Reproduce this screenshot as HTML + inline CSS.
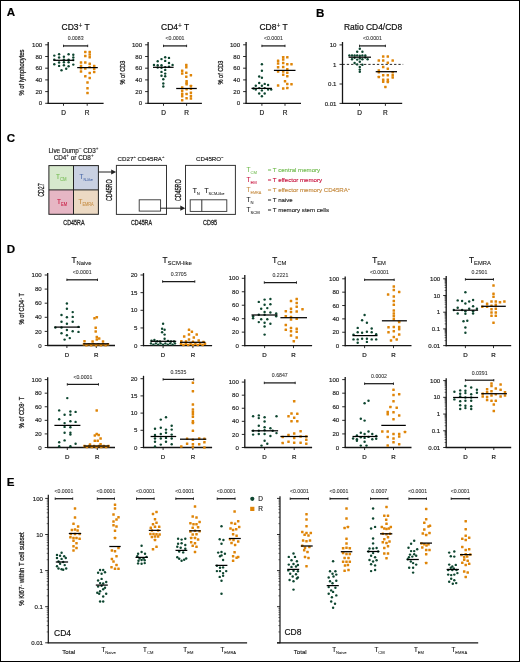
<!DOCTYPE html>
<html><head><meta charset="utf-8"><style>
html,body{margin:0;padding:0;background:#fff;}
body{width:520px;height:662px;overflow:hidden;}
svg{display:block;font-family:"Liberation Sans", sans-serif;will-change:transform;}
</style></head><body>
<svg width="520" height="662" viewBox="0 0 520 662">
<rect x="0" y="0" width="520" height="662" fill="#fff"/>
<text x="6.80" y="16.30" font-size="11.6" text-anchor="start" fill="#000" font-weight="bold"  stroke="#000" stroke-width="0.16">A</text>
<line x1="48.20" y1="42.00" x2="48.20" y2="103.90" stroke="#151515" stroke-width="1.3" />
<line x1="47.60" y1="103.30" x2="103.60" y2="103.30" stroke="#151515" stroke-width="1.3" />
<line x1="45.20" y1="103.30" x2="48.20" y2="103.30" stroke="#151515" stroke-width="0.9" />
<text x="42.20" y="105.45" font-size="6.1" text-anchor="end" fill="#222" font-weight="normal" stroke="#222" stroke-width="0.16" >0</text>
<line x1="45.20" y1="91.60" x2="48.20" y2="91.60" stroke="#151515" stroke-width="0.9" />
<text x="42.20" y="93.75" font-size="6.1" text-anchor="end" fill="#222" font-weight="normal" stroke="#222" stroke-width="0.16" >20</text>
<line x1="45.20" y1="79.90" x2="48.20" y2="79.90" stroke="#151515" stroke-width="0.9" />
<text x="42.20" y="82.05" font-size="6.1" text-anchor="end" fill="#222" font-weight="normal" stroke="#222" stroke-width="0.16" >40</text>
<line x1="45.20" y1="68.20" x2="48.20" y2="68.20" stroke="#151515" stroke-width="0.9" />
<text x="42.20" y="70.35" font-size="6.1" text-anchor="end" fill="#222" font-weight="normal" stroke="#222" stroke-width="0.16" >60</text>
<line x1="45.20" y1="56.50" x2="48.20" y2="56.50" stroke="#151515" stroke-width="0.9" />
<text x="42.20" y="58.65" font-size="6.1" text-anchor="end" fill="#222" font-weight="normal" stroke="#222" stroke-width="0.16" >80</text>
<line x1="45.20" y1="44.80" x2="48.20" y2="44.80" stroke="#151515" stroke-width="0.9" />
<text x="42.20" y="46.95" font-size="6.1" text-anchor="end" fill="#222" font-weight="normal" stroke="#222" stroke-width="0.16" >100</text>
<line x1="63.50" y1="103.30" x2="63.50" y2="105.80" stroke="#151515" stroke-width="0.9" />
<text x="63.50" y="114.90" font-size="6.5" text-anchor="middle" fill="#222" font-weight="normal" stroke="#222" stroke-width="0.2" >D</text>
<line x1="87.20" y1="103.30" x2="87.20" y2="105.80" stroke="#151515" stroke-width="0.9" />
<text x="87.20" y="114.90" font-size="6.5" text-anchor="middle" fill="#222" font-weight="normal" stroke="#222" stroke-width="0.2" >R</text>
<text transform="translate(24.00,72.50) rotate(-90)" font-size="6.9" text-anchor="middle" fill="#222" stroke="#222" stroke-width="0.28" textLength="46" lengthAdjust="spacingAndGlyphs">% of lymphocytes</text>
<text x="75.70" y="30.30" font-size="8.3" text-anchor="middle" fill="#111" font-weight="normal" textLength="28.2" lengthAdjust="spacingAndGlyphs" stroke="#111" stroke-width="0.22" >CD3<tspan font-size="6.6" dy="-2.4" stroke-width="0.07">+</tspan><tspan dy="2.4"> T</tspan></text>
<line x1="63.50" y1="45.90" x2="87.70" y2="45.90" stroke="#1a1a1a" stroke-width="1.25" />
<line x1="63.50" y1="44.70" x2="63.50" y2="47.10" stroke="#1a1a1a" stroke-width="0.9" />
<line x1="87.70" y1="44.70" x2="87.70" y2="47.10" stroke="#1a1a1a" stroke-width="0.9" />
<text x="75.60" y="40.20" font-size="5.2" text-anchor="middle" fill="#333" font-weight="normal" stroke="#333" stroke-width="0.08" >0.0083</text>
<circle cx="54.30" cy="55.60" r="1.22" fill="#0e4630"/>
<circle cx="59.10" cy="54.30" r="1.22" fill="#0e4630"/>
<circle cx="63.90" cy="56.70" r="1.22" fill="#0e4630"/>
<circle cx="68.60" cy="54.30" r="1.22" fill="#0e4630"/>
<circle cx="73.30" cy="54.80" r="1.22" fill="#0e4630"/>
<circle cx="59.10" cy="57.50" r="1.22" fill="#0e4630"/>
<circle cx="73.30" cy="57.50" r="1.22" fill="#0e4630"/>
<circle cx="54.30" cy="59.60" r="1.22" fill="#0e4630"/>
<circle cx="63.90" cy="59.60" r="1.22" fill="#0e4630"/>
<circle cx="68.60" cy="59.60" r="1.22" fill="#0e4630"/>
<circle cx="73.30" cy="60.10" r="1.22" fill="#0e4630"/>
<circle cx="59.10" cy="62.50" r="1.22" fill="#0e4630"/>
<circle cx="63.90" cy="62.30" r="1.22" fill="#0e4630"/>
<circle cx="68.60" cy="62.30" r="1.22" fill="#0e4630"/>
<circle cx="54.30" cy="64.20" r="1.22" fill="#0e4630"/>
<circle cx="59.10" cy="65.90" r="1.22" fill="#0e4630"/>
<circle cx="63.90" cy="65.20" r="1.22" fill="#0e4630"/>
<circle cx="68.60" cy="66.20" r="1.22" fill="#0e4630"/>
<circle cx="73.30" cy="64.60" r="1.22" fill="#0e4630"/>
<circle cx="61.50" cy="70.20" r="1.22" fill="#0e4630"/>
<circle cx="66.20" cy="68.80" r="1.22" fill="#0e4630"/>
<rect x="84.05" y="50.65" width="2.5" height="2.5" rx="0.35" fill="#df8508"/>
<rect x="88.45" y="50.65" width="2.5" height="2.5" rx="0.35" fill="#df8508"/>
<rect x="84.05" y="54.75" width="2.5" height="2.5" rx="0.35" fill="#df8508"/>
<rect x="88.45" y="53.35" width="2.5" height="2.5" rx="0.35" fill="#df8508"/>
<rect x="88.45" y="55.95" width="2.5" height="2.5" rx="0.35" fill="#df8508"/>
<rect x="79.75" y="61.25" width="2.5" height="2.5" rx="0.35" fill="#df8508"/>
<rect x="84.05" y="61.25" width="2.5" height="2.5" rx="0.35" fill="#df8508"/>
<rect x="88.45" y="62.55" width="2.5" height="2.5" rx="0.35" fill="#df8508"/>
<rect x="79.75" y="64.65" width="2.5" height="2.5" rx="0.35" fill="#df8508"/>
<rect x="92.95" y="64.65" width="2.5" height="2.5" rx="0.35" fill="#df8508"/>
<rect x="79.75" y="67.05" width="2.5" height="2.5" rx="0.35" fill="#df8508"/>
<rect x="84.05" y="67.25" width="2.5" height="2.5" rx="0.35" fill="#df8508"/>
<rect x="88.45" y="65.85" width="2.5" height="2.5" rx="0.35" fill="#df8508"/>
<rect x="92.95" y="67.55" width="2.5" height="2.5" rx="0.35" fill="#df8508"/>
<rect x="79.75" y="70.35" width="2.5" height="2.5" rx="0.35" fill="#df8508"/>
<rect x="92.95" y="70.65" width="2.5" height="2.5" rx="0.35" fill="#df8508"/>
<rect x="88.45" y="71.65" width="2.5" height="2.5" rx="0.35" fill="#df8508"/>
<rect x="84.05" y="75.05" width="2.5" height="2.5" rx="0.35" fill="#df8508"/>
<rect x="88.45" y="76.65" width="2.5" height="2.5" rx="0.35" fill="#df8508"/>
<rect x="86.25" y="81.15" width="2.5" height="2.5" rx="0.35" fill="#df8508"/>
<rect x="86.25" y="87.05" width="2.5" height="2.5" rx="0.35" fill="#df8508"/>
<rect x="86.25" y="91.85" width="2.5" height="2.5" rx="0.35" fill="#df8508"/>
<line x1="53.40" y1="60.30" x2="74.00" y2="60.30" stroke="#000" stroke-width="1.25" />
<line x1="77.20" y1="67.60" x2="97.80" y2="67.60" stroke="#000" stroke-width="1.25" />
<line x1="148.10" y1="42.00" x2="148.10" y2="103.90" stroke="#151515" stroke-width="1.3" />
<line x1="147.50" y1="103.30" x2="201.90" y2="103.30" stroke="#151515" stroke-width="1.3" />
<line x1="145.10" y1="103.30" x2="148.10" y2="103.30" stroke="#151515" stroke-width="0.9" />
<text x="142.10" y="105.45" font-size="6.1" text-anchor="end" fill="#222" font-weight="normal" stroke="#222" stroke-width="0.16" >0</text>
<line x1="145.10" y1="91.60" x2="148.10" y2="91.60" stroke="#151515" stroke-width="0.9" />
<text x="142.10" y="93.75" font-size="6.1" text-anchor="end" fill="#222" font-weight="normal" stroke="#222" stroke-width="0.16" >20</text>
<line x1="145.10" y1="79.90" x2="148.10" y2="79.90" stroke="#151515" stroke-width="0.9" />
<text x="142.10" y="82.05" font-size="6.1" text-anchor="end" fill="#222" font-weight="normal" stroke="#222" stroke-width="0.16" >40</text>
<line x1="145.10" y1="68.20" x2="148.10" y2="68.20" stroke="#151515" stroke-width="0.9" />
<text x="142.10" y="70.35" font-size="6.1" text-anchor="end" fill="#222" font-weight="normal" stroke="#222" stroke-width="0.16" >60</text>
<line x1="145.10" y1="56.50" x2="148.10" y2="56.50" stroke="#151515" stroke-width="0.9" />
<text x="142.10" y="58.65" font-size="6.1" text-anchor="end" fill="#222" font-weight="normal" stroke="#222" stroke-width="0.16" >80</text>
<line x1="145.10" y1="44.80" x2="148.10" y2="44.80" stroke="#151515" stroke-width="0.9" />
<text x="142.10" y="46.95" font-size="6.1" text-anchor="end" fill="#222" font-weight="normal" stroke="#222" stroke-width="0.16" >100</text>
<line x1="163.50" y1="103.30" x2="163.50" y2="105.80" stroke="#151515" stroke-width="0.9" />
<text x="163.50" y="114.90" font-size="6.5" text-anchor="middle" fill="#222" font-weight="normal" stroke="#222" stroke-width="0.2" >D</text>
<line x1="186.60" y1="103.30" x2="186.60" y2="105.80" stroke="#151515" stroke-width="0.9" />
<text x="186.60" y="114.90" font-size="6.5" text-anchor="middle" fill="#222" font-weight="normal" stroke="#222" stroke-width="0.2" >R</text>
<text transform="translate(124.50,72.50) rotate(-90)" font-size="6.9" text-anchor="middle" fill="#222" stroke="#222" stroke-width="0.28" textLength="24" lengthAdjust="spacingAndGlyphs">% of CD3</text>
<text x="175.20" y="30.30" font-size="8.3" text-anchor="middle" fill="#111" font-weight="normal" textLength="28.2" lengthAdjust="spacingAndGlyphs" stroke="#111" stroke-width="0.22" >CD4<tspan font-size="6.6" dy="-2.4" stroke-width="0.07">+</tspan><tspan dy="2.4"> T</tspan></text>
<line x1="163.50" y1="45.90" x2="186.60" y2="45.90" stroke="#1a1a1a" stroke-width="1.25" />
<line x1="163.50" y1="44.70" x2="163.50" y2="47.10" stroke="#1a1a1a" stroke-width="0.9" />
<line x1="186.60" y1="44.70" x2="186.60" y2="47.10" stroke="#1a1a1a" stroke-width="0.9" />
<text x="175.05" y="40.20" font-size="5.2" text-anchor="middle" fill="#333" font-weight="normal" stroke="#333" stroke-width="0.08" >&lt;0.0001</text>
<circle cx="165.20" cy="57.20" r="1.22" fill="#0e4630"/>
<circle cx="169.00" cy="57.90" r="1.22" fill="#0e4630"/>
<circle cx="161.50" cy="59.10" r="1.22" fill="#0e4630"/>
<circle cx="157.70" cy="61.25" r="1.22" fill="#0e4630"/>
<circle cx="165.20" cy="60.90" r="1.22" fill="#0e4630"/>
<circle cx="169.00" cy="63.00" r="1.22" fill="#0e4630"/>
<circle cx="154.00" cy="64.90" r="1.22" fill="#0e4630"/>
<circle cx="157.70" cy="65.20" r="1.22" fill="#0e4630"/>
<circle cx="161.50" cy="65.20" r="1.22" fill="#0e4630"/>
<circle cx="172.60" cy="64.90" r="1.22" fill="#0e4630"/>
<circle cx="157.70" cy="67.60" r="1.22" fill="#0e4630"/>
<circle cx="161.50" cy="67.80" r="1.22" fill="#0e4630"/>
<circle cx="165.20" cy="67.10" r="1.22" fill="#0e4630"/>
<circle cx="169.00" cy="66.80" r="1.22" fill="#0e4630"/>
<circle cx="165.20" cy="69.90" r="1.22" fill="#0e4630"/>
<circle cx="161.50" cy="71.90" r="1.22" fill="#0e4630"/>
<circle cx="165.20" cy="73.60" r="1.22" fill="#0e4630"/>
<circle cx="161.50" cy="75.80" r="1.22" fill="#0e4630"/>
<circle cx="165.20" cy="76.20" r="1.22" fill="#0e4630"/>
<circle cx="163.30" cy="79.30" r="1.22" fill="#0e4630"/>
<circle cx="163.30" cy="83.50" r="1.22" fill="#0e4630"/>
<circle cx="163.30" cy="86.50" r="1.22" fill="#0e4630"/>
<rect x="185.05" y="63.65" width="2.5" height="2.5" rx="0.35" fill="#df8508"/>
<rect x="185.05" y="66.05" width="2.5" height="2.5" rx="0.35" fill="#df8508"/>
<rect x="180.95" y="69.45" width="2.5" height="2.5" rx="0.35" fill="#df8508"/>
<rect x="180.95" y="72.35" width="2.5" height="2.5" rx="0.35" fill="#df8508"/>
<rect x="185.05" y="71.55" width="2.5" height="2.5" rx="0.35" fill="#df8508"/>
<rect x="189.65" y="73.95" width="2.5" height="2.5" rx="0.35" fill="#df8508"/>
<rect x="185.05" y="75.45" width="2.5" height="2.5" rx="0.35" fill="#df8508"/>
<rect x="185.35" y="79.95" width="2.5" height="2.5" rx="0.35" fill="#df8508"/>
<rect x="185.35" y="81.65" width="2.5" height="2.5" rx="0.35" fill="#df8508"/>
<rect x="185.35" y="83.05" width="2.5" height="2.5" rx="0.35" fill="#df8508"/>
<rect x="180.95" y="86.25" width="2.5" height="2.5" rx="0.35" fill="#df8508"/>
<rect x="180.95" y="89.45" width="2.5" height="2.5" rx="0.35" fill="#df8508"/>
<rect x="180.95" y="92.55" width="2.5" height="2.5" rx="0.35" fill="#df8508"/>
<rect x="180.95" y="94.95" width="2.5" height="2.5" rx="0.35" fill="#df8508"/>
<rect x="180.95" y="98.95" width="2.5" height="2.5" rx="0.35" fill="#df8508"/>
<rect x="185.35" y="87.95" width="2.5" height="2.5" rx="0.35" fill="#df8508"/>
<rect x="185.35" y="92.85" width="2.5" height="2.5" rx="0.35" fill="#df8508"/>
<rect x="185.35" y="97.05" width="2.5" height="2.5" rx="0.35" fill="#df8508"/>
<rect x="189.65" y="84.85" width="2.5" height="2.5" rx="0.35" fill="#df8508"/>
<rect x="189.65" y="87.45" width="2.5" height="2.5" rx="0.35" fill="#df8508"/>
<rect x="189.65" y="91.45" width="2.5" height="2.5" rx="0.35" fill="#df8508"/>
<rect x="189.65" y="94.65" width="2.5" height="2.5" rx="0.35" fill="#df8508"/>
<rect x="189.65" y="97.25" width="2.5" height="2.5" rx="0.35" fill="#df8508"/>
<line x1="153.00" y1="67.30" x2="173.60" y2="67.30" stroke="#000" stroke-width="1.25" />
<line x1="176.20" y1="88.50" x2="196.80" y2="88.50" stroke="#000" stroke-width="1.25" />
<line x1="246.10" y1="42.00" x2="246.10" y2="103.90" stroke="#151515" stroke-width="1.3" />
<line x1="245.50" y1="103.30" x2="301.00" y2="103.30" stroke="#151515" stroke-width="1.3" />
<line x1="243.10" y1="103.30" x2="246.10" y2="103.30" stroke="#151515" stroke-width="0.9" />
<text x="240.10" y="105.45" font-size="6.1" text-anchor="end" fill="#222" font-weight="normal" stroke="#222" stroke-width="0.16" >0</text>
<line x1="243.10" y1="91.60" x2="246.10" y2="91.60" stroke="#151515" stroke-width="0.9" />
<text x="240.10" y="93.75" font-size="6.1" text-anchor="end" fill="#222" font-weight="normal" stroke="#222" stroke-width="0.16" >20</text>
<line x1="243.10" y1="79.90" x2="246.10" y2="79.90" stroke="#151515" stroke-width="0.9" />
<text x="240.10" y="82.05" font-size="6.1" text-anchor="end" fill="#222" font-weight="normal" stroke="#222" stroke-width="0.16" >40</text>
<line x1="243.10" y1="68.20" x2="246.10" y2="68.20" stroke="#151515" stroke-width="0.9" />
<text x="240.10" y="70.35" font-size="6.1" text-anchor="end" fill="#222" font-weight="normal" stroke="#222" stroke-width="0.16" >60</text>
<line x1="243.10" y1="56.50" x2="246.10" y2="56.50" stroke="#151515" stroke-width="0.9" />
<text x="240.10" y="58.65" font-size="6.1" text-anchor="end" fill="#222" font-weight="normal" stroke="#222" stroke-width="0.16" >80</text>
<line x1="243.10" y1="44.80" x2="246.10" y2="44.80" stroke="#151515" stroke-width="0.9" />
<text x="240.10" y="46.95" font-size="6.1" text-anchor="end" fill="#222" font-weight="normal" stroke="#222" stroke-width="0.16" >100</text>
<line x1="261.90" y1="103.30" x2="261.90" y2="105.80" stroke="#151515" stroke-width="0.9" />
<text x="261.90" y="114.90" font-size="6.5" text-anchor="middle" fill="#222" font-weight="normal" stroke="#222" stroke-width="0.2" >D</text>
<line x1="285.00" y1="103.30" x2="285.00" y2="105.80" stroke="#151515" stroke-width="0.9" />
<text x="285.00" y="114.90" font-size="6.5" text-anchor="middle" fill="#222" font-weight="normal" stroke="#222" stroke-width="0.2" >R</text>
<text transform="translate(222.50,72.50) rotate(-90)" font-size="6.9" text-anchor="middle" fill="#222" stroke="#222" stroke-width="0.28" textLength="24" lengthAdjust="spacingAndGlyphs">% of CD3</text>
<text x="273.60" y="30.30" font-size="8.3" text-anchor="middle" fill="#111" font-weight="normal" textLength="28.2" lengthAdjust="spacingAndGlyphs" stroke="#111" stroke-width="0.22" >CD8<tspan font-size="6.6" dy="-2.4" stroke-width="0.07">+</tspan><tspan dy="2.4"> T</tspan></text>
<line x1="261.90" y1="45.90" x2="285.00" y2="45.90" stroke="#1a1a1a" stroke-width="1.25" />
<line x1="261.90" y1="44.70" x2="261.90" y2="47.10" stroke="#1a1a1a" stroke-width="0.9" />
<line x1="285.00" y1="44.70" x2="285.00" y2="47.10" stroke="#1a1a1a" stroke-width="0.9" />
<text x="273.45" y="40.20" font-size="5.2" text-anchor="middle" fill="#333" font-weight="normal" stroke="#333" stroke-width="0.08" >&lt;0.0001</text>
<circle cx="261.90" cy="64.20" r="1.22" fill="#0e4630"/>
<circle cx="261.90" cy="70.70" r="1.22" fill="#0e4630"/>
<circle cx="259.20" cy="76.50" r="1.22" fill="#0e4630"/>
<circle cx="261.90" cy="77.80" r="1.22" fill="#0e4630"/>
<circle cx="259.20" cy="83.00" r="1.22" fill="#0e4630"/>
<circle cx="264.70" cy="83.90" r="1.22" fill="#0e4630"/>
<circle cx="255.80" cy="85.80" r="1.22" fill="#0e4630"/>
<circle cx="268.10" cy="85.00" r="1.22" fill="#0e4630"/>
<circle cx="261.90" cy="85.80" r="1.22" fill="#0e4630"/>
<circle cx="253.50" cy="88.50" r="1.22" fill="#0e4630"/>
<circle cx="255.80" cy="89.60" r="1.22" fill="#0e4630"/>
<circle cx="259.20" cy="88.10" r="1.22" fill="#0e4630"/>
<circle cx="264.70" cy="88.10" r="1.22" fill="#0e4630"/>
<circle cx="268.10" cy="89.60" r="1.22" fill="#0e4630"/>
<circle cx="271.20" cy="89.60" r="1.22" fill="#0e4630"/>
<circle cx="261.90" cy="90.40" r="1.22" fill="#0e4630"/>
<circle cx="259.20" cy="93.50" r="1.22" fill="#0e4630"/>
<circle cx="264.70" cy="93.50" r="1.22" fill="#0e4630"/>
<circle cx="261.90" cy="96.20" r="1.22" fill="#0e4630"/>
<rect x="281.95" y="56.05" width="2.5" height="2.5" rx="0.35" fill="#df8508"/>
<rect x="286.05" y="56.05" width="2.5" height="2.5" rx="0.35" fill="#df8508"/>
<rect x="276.85" y="59.55" width="2.5" height="2.5" rx="0.35" fill="#df8508"/>
<rect x="281.95" y="58.35" width="2.5" height="2.5" rx="0.35" fill="#df8508"/>
<rect x="276.85" y="62.25" width="2.5" height="2.5" rx="0.35" fill="#df8508"/>
<rect x="281.95" y="61.75" width="2.5" height="2.5" rx="0.35" fill="#df8508"/>
<rect x="286.05" y="62.95" width="2.5" height="2.5" rx="0.35" fill="#df8508"/>
<rect x="290.25" y="62.95" width="2.5" height="2.5" rx="0.35" fill="#df8508"/>
<rect x="276.85" y="66.05" width="2.5" height="2.5" rx="0.35" fill="#df8508"/>
<rect x="281.95" y="65.75" width="2.5" height="2.5" rx="0.35" fill="#df8508"/>
<rect x="286.05" y="67.95" width="2.5" height="2.5" rx="0.35" fill="#df8508"/>
<rect x="276.85" y="70.35" width="2.5" height="2.5" rx="0.35" fill="#df8508"/>
<rect x="281.95" y="70.35" width="2.5" height="2.5" rx="0.35" fill="#df8508"/>
<rect x="286.05" y="71.45" width="2.5" height="2.5" rx="0.35" fill="#df8508"/>
<rect x="281.95" y="73.45" width="2.5" height="2.5" rx="0.35" fill="#df8508"/>
<rect x="286.05" y="74.95" width="2.5" height="2.5" rx="0.35" fill="#df8508"/>
<rect x="283.75" y="79.95" width="2.5" height="2.5" rx="0.35" fill="#df8508"/>
<rect x="286.05" y="82.65" width="2.5" height="2.5" rx="0.35" fill="#df8508"/>
<rect x="276.85" y="84.25" width="2.5" height="2.5" rx="0.35" fill="#df8508"/>
<rect x="290.25" y="82.95" width="2.5" height="2.5" rx="0.35" fill="#df8508"/>
<rect x="281.95" y="87.25" width="2.5" height="2.5" rx="0.35" fill="#df8508"/>
<rect x="286.05" y="86.85" width="2.5" height="2.5" rx="0.35" fill="#df8508"/>
<line x1="251.50" y1="88.40" x2="271.90" y2="88.40" stroke="#000" stroke-width="1.25" />
<line x1="273.90" y1="70.40" x2="295.50" y2="70.40" stroke="#000" stroke-width="1.25" />
<text x="315.90" y="16.50" font-size="11.6" text-anchor="start" fill="#000" font-weight="bold"  stroke="#000" stroke-width="0.16">B</text>
<line x1="342.50" y1="42.00" x2="342.50" y2="104.00" stroke="#151515" stroke-width="1.3" />
<line x1="341.90" y1="103.40" x2="402.20" y2="103.40" stroke="#151515" stroke-width="1.3" />
<line x1="339.50" y1="103.40" x2="342.50" y2="103.40" stroke="#151515" stroke-width="0.9" />
<text x="336.50" y="105.55" font-size="6.1" text-anchor="end" fill="#222" font-weight="normal" stroke="#222" stroke-width="0.16" >0.01</text>
<line x1="339.50" y1="84.00" x2="342.50" y2="84.00" stroke="#151515" stroke-width="0.9" />
<text x="336.50" y="86.15" font-size="6.1" text-anchor="end" fill="#222" font-weight="normal" stroke="#222" stroke-width="0.16" >0.1</text>
<line x1="339.50" y1="64.40" x2="342.50" y2="64.40" stroke="#151515" stroke-width="0.9" />
<text x="336.50" y="66.55" font-size="6.1" text-anchor="end" fill="#222" font-weight="normal" stroke="#222" stroke-width="0.16" >1</text>
<line x1="339.50" y1="44.90" x2="342.50" y2="44.90" stroke="#151515" stroke-width="0.9" />
<text x="336.50" y="47.05" font-size="6.1" text-anchor="end" fill="#222" font-weight="normal" stroke="#222" stroke-width="0.16" >10</text>
<line x1="359.50" y1="103.40" x2="359.50" y2="105.90" stroke="#151515" stroke-width="0.9" />
<text x="359.50" y="115.00" font-size="6.5" text-anchor="middle" fill="#222" font-weight="normal" stroke="#222" stroke-width="0.2" >D</text>
<line x1="385.40" y1="103.40" x2="385.40" y2="105.90" stroke="#151515" stroke-width="0.9" />
<text x="385.40" y="115.00" font-size="6.5" text-anchor="middle" fill="#222" font-weight="normal" stroke="#222" stroke-width="0.2" >R</text>
<text x="373.00" y="30.20" font-size="8.4" text-anchor="middle" fill="#111" font-weight="normal" textLength="58.2" lengthAdjust="spacingAndGlyphs" stroke="#111" stroke-width="0.2" >Ratio CD4/CD8</text>
<line x1="359.50" y1="45.90" x2="385.40" y2="45.90" stroke="#1a1a1a" stroke-width="1.25" />
<line x1="359.50" y1="44.70" x2="359.50" y2="47.10" stroke="#1a1a1a" stroke-width="0.9" />
<line x1="385.40" y1="44.70" x2="385.40" y2="47.10" stroke="#1a1a1a" stroke-width="0.9" />
<text x="372.45" y="40.20" font-size="5.2" text-anchor="middle" fill="#333" font-weight="normal" stroke="#333" stroke-width="0.08" >&lt;0.0001</text>
<line x1="342.50" y1="64.40" x2="403.20" y2="64.40" stroke="#111" stroke-width="0.9" stroke-dasharray="2.3,2.0"/>
<circle cx="359.80" cy="48.80" r="1.22" fill="#0e4630"/>
<circle cx="357.20" cy="51.80" r="1.22" fill="#0e4630"/>
<circle cx="362.40" cy="51.80" r="1.22" fill="#0e4630"/>
<circle cx="349.40" cy="55.40" r="1.22" fill="#0e4630"/>
<circle cx="352.00" cy="55.40" r="1.22" fill="#0e4630"/>
<circle cx="354.60" cy="55.40" r="1.22" fill="#0e4630"/>
<circle cx="357.20" cy="55.40" r="1.22" fill="#0e4630"/>
<circle cx="359.80" cy="55.80" r="1.22" fill="#0e4630"/>
<circle cx="362.40" cy="55.40" r="1.22" fill="#0e4630"/>
<circle cx="365.30" cy="55.40" r="1.22" fill="#0e4630"/>
<circle cx="354.60" cy="57.80" r="1.22" fill="#0e4630"/>
<circle cx="359.80" cy="58.40" r="1.22" fill="#0e4630"/>
<circle cx="365.30" cy="57.50" r="1.22" fill="#0e4630"/>
<circle cx="352.00" cy="59.20" r="1.22" fill="#0e4630"/>
<circle cx="357.20" cy="59.60" r="1.22" fill="#0e4630"/>
<circle cx="362.40" cy="59.20" r="1.22" fill="#0e4630"/>
<circle cx="367.60" cy="59.20" r="1.22" fill="#0e4630"/>
<circle cx="359.80" cy="61.80" r="1.22" fill="#0e4630"/>
<circle cx="354.60" cy="63.00" r="1.22" fill="#0e4630"/>
<circle cx="357.20" cy="64.40" r="1.22" fill="#0e4630"/>
<circle cx="362.40" cy="64.80" r="1.22" fill="#0e4630"/>
<circle cx="359.80" cy="67.00" r="1.22" fill="#0e4630"/>
<circle cx="359.80" cy="69.60" r="1.22" fill="#0e4630"/>
<circle cx="359.80" cy="71.70" r="1.22" fill="#0e4630"/>
<rect x="381.95" y="55.35" width="2.5" height="2.5" rx="0.35" fill="#df8508"/>
<rect x="386.55" y="55.35" width="2.5" height="2.5" rx="0.35" fill="#df8508"/>
<rect x="377.55" y="59.35" width="2.5" height="2.5" rx="0.35" fill="#df8508"/>
<rect x="381.95" y="59.35" width="2.5" height="2.5" rx="0.35" fill="#df8508"/>
<rect x="391.45" y="59.35" width="2.5" height="2.5" rx="0.35" fill="#df8508"/>
<rect x="386.55" y="61.45" width="2.5" height="2.5" rx="0.35" fill="#df8508"/>
<rect x="381.95" y="65.75" width="2.5" height="2.5" rx="0.35" fill="#df8508"/>
<rect x="377.55" y="69.25" width="2.5" height="2.5" rx="0.35" fill="#df8508"/>
<rect x="386.55" y="67.45" width="2.5" height="2.5" rx="0.35" fill="#df8508"/>
<rect x="391.45" y="70.95" width="2.5" height="2.5" rx="0.35" fill="#df8508"/>
<rect x="377.55" y="70.95" width="2.5" height="2.5" rx="0.35" fill="#df8508"/>
<rect x="381.95" y="73.95" width="2.5" height="2.5" rx="0.35" fill="#df8508"/>
<rect x="386.55" y="73.95" width="2.5" height="2.5" rx="0.35" fill="#df8508"/>
<rect x="391.45" y="73.95" width="2.5" height="2.5" rx="0.35" fill="#df8508"/>
<rect x="377.55" y="75.85" width="2.5" height="2.5" rx="0.35" fill="#df8508"/>
<rect x="391.45" y="76.15" width="2.5" height="2.5" rx="0.35" fill="#df8508"/>
<rect x="381.95" y="78.45" width="2.5" height="2.5" rx="0.35" fill="#df8508"/>
<rect x="386.55" y="78.45" width="2.5" height="2.5" rx="0.35" fill="#df8508"/>
<rect x="381.95" y="80.45" width="2.5" height="2.5" rx="0.35" fill="#df8508"/>
<rect x="386.55" y="80.85" width="2.5" height="2.5" rx="0.35" fill="#df8508"/>
<rect x="384.15" y="85.65" width="2.5" height="2.5" rx="0.35" fill="#df8508"/>
<line x1="348.60" y1="57.20" x2="371.00" y2="57.20" stroke="#000" stroke-width="1.25" />
<line x1="375.70" y1="71.70" x2="397.00" y2="71.70" stroke="#000" stroke-width="1.25" />
<text x="6.80" y="141.70" font-size="11.6" text-anchor="start" fill="#000" font-weight="bold"  stroke="#000" stroke-width="0.16">C</text>
<text x="73.5" y="153.2" font-size="6.35" text-anchor="middle" fill="#222" stroke="#222" stroke-width="0.16">Live Dump<tspan font-size="4.6" dy="-3.0" stroke-width="0.04">&#8211;</tspan><tspan dy="3.0"> CD3</tspan><tspan font-size="4.6" dy="-3.0" stroke-width="0.04">+</tspan></text>
<text x="73.6" y="160.2" font-size="6.35" text-anchor="middle" fill="#222" stroke="#222" stroke-width="0.16">CD4<tspan font-size="4.6" dy="-3.0" stroke-width="0.04">+</tspan><tspan dy="3.0"> or CD8</tspan><tspan font-size="4.6" dy="-3.0" stroke-width="0.04">+</tspan></text>
<rect x="48.9" y="165.6" width="24.6" height="24.3" fill="#d7e9cd"/>
<rect x="73.5" y="165.6" width="24.9" height="24.3" fill="#c9d1e2"/>
<rect x="48.9" y="189.9" width="24.6" height="24.4" fill="#e6b6c4"/>
<rect x="73.5" y="189.9" width="24.9" height="24.4" fill="#ecd9c3"/>
<rect x="48.9" y="165.6" width="49.5" height="48.7" fill="none" stroke="#222" stroke-width="1"/>
<line x1="73.50" y1="165.60" x2="73.50" y2="214.30" stroke="#222" stroke-width="1.0" />
<line x1="48.90" y1="189.90" x2="98.40" y2="189.90" stroke="#222" stroke-width="1.0" />
<text x="56.0" y="178.5" font-size="6.4" fill="#72bb50" text-anchor="start" stroke="#72bb50" stroke-width="0.1">T<tspan font-size="4.8" dy="2.2" textLength="6.6" lengthAdjust="spacingAndGlyphs" stroke-width="0.04">CM</tspan></text>
<text x="79.6" y="178.5" font-size="6.4" fill="#4a68a8" text-anchor="start" stroke="#4a68a8" stroke-width="0.1">T<tspan font-size="4.4" dy="2.2" textLength="9.4" lengthAdjust="spacingAndGlyphs" stroke-width="0.04">N-like</tspan></text>
<text x="57.0" y="203.5" font-size="6.4" fill="#c8143e" text-anchor="start" stroke="#c8143e" stroke-width="0.1">T<tspan font-size="4.8" dy="2.2" textLength="6.2" lengthAdjust="spacingAndGlyphs" stroke-width="0.04">EM</tspan></text>
<text x="78.6" y="203.5" font-size="6.4" fill="#c58a3e" text-anchor="start" stroke="#c58a3e" stroke-width="0.1">T<tspan font-size="4.6" dy="2.2" textLength="11.2" lengthAdjust="spacingAndGlyphs" stroke-width="0.04">EMRA</tspan></text>
<text transform="translate(44.10,190.10) rotate(-90)" font-size="9.0" text-anchor="middle" fill="#222" stroke="#222" stroke-width="0.3" textLength="13.4" lengthAdjust="spacingAndGlyphs">CD27</text>
<text x="73.90" y="224.90" font-size="7.9" text-anchor="middle" fill="#222" font-weight="normal" textLength="21.1" lengthAdjust="spacingAndGlyphs" stroke="#222" stroke-width="0.3" >CD45RA</text>
<line x1="98.40" y1="172.00" x2="112.00" y2="172.00" stroke="#222" stroke-width="1.0" />
<polygon points="116.2,172 111.2,169.4 111.2,174.6" fill="#222"/>
<text x="141.0" y="160.5" font-size="6.2" text-anchor="middle" fill="#222" stroke="#222" stroke-width="0.16">CD27<tspan font-size="4.2" dy="-2.6" stroke-width="0.04">+</tspan><tspan dy="2.6"> CD45RA</tspan><tspan font-size="4.2" dy="-2.6" stroke-width="0.04">+</tspan></text>
<rect x="116.4" y="165.4" width="50.1" height="49.0" fill="none" stroke="#333" stroke-width="1"/>
<rect x="139.2" y="199.8" width="21.4" height="11.3" fill="none" stroke="#333" stroke-width="0.9"/>
<text transform="translate(112.00,190.20) rotate(-90)" font-size="8.4" text-anchor="middle" fill="#222" stroke="#222" stroke-width="0.3" textLength="21.6" lengthAdjust="spacingAndGlyphs">CD45RO</text>
<text x="141.50" y="224.90" font-size="7.9" text-anchor="middle" fill="#222" font-weight="normal" textLength="21.1" lengthAdjust="spacingAndGlyphs" stroke="#222" stroke-width="0.3" >CD45RA</text>
<line x1="160.60" y1="208.20" x2="181.00" y2="208.20" stroke="#222" stroke-width="1.0" />
<polygon points="185.3,208.2 180.3,205.6 180.3,210.8" fill="#222"/>
<text x="209.6" y="160.8" font-size="6.2" text-anchor="middle" fill="#222" stroke="#222" stroke-width="0.16">CD45RO<tspan font-size="3.6" dy="-3.0" stroke-width="0.04">&#8211;</tspan></text>
<rect x="185.5" y="165.4" width="49.9" height="49.0" fill="none" stroke="#333" stroke-width="1"/>
<rect x="190.2" y="199.8" width="36.6" height="11.6" fill="none" stroke="#333" stroke-width="0.9"/>
<line x1="201.80" y1="199.80" x2="201.80" y2="211.40" stroke="#333" stroke-width="1.0" />
<text transform="translate(180.80,190.20) rotate(-90)" font-size="8.4" text-anchor="middle" fill="#222" stroke="#222" stroke-width="0.3" textLength="21.6" lengthAdjust="spacingAndGlyphs">CD45RO</text>
<text x="210.00" y="224.90" font-size="7.9" text-anchor="middle" fill="#222" font-weight="normal" textLength="14.0" lengthAdjust="spacingAndGlyphs" stroke="#222" stroke-width="0.3" >CD95</text>
<text x="192.8" y="193.4" font-size="6.6" fill="#222" stroke="#222" stroke-width="0.16">T<tspan font-size="4.2" dy="1.6" stroke-width="0.04">N</tspan></text>
<text x="204.4" y="193.4" font-size="6.6" fill="#222" stroke="#222" stroke-width="0.16">T<tspan font-size="4.2" dy="1.6" textLength="16" lengthAdjust="spacingAndGlyphs" stroke-width="0.04">SCM-like</tspan></text>
<text x="246.4" y="172.3" font-size="6.6" fill="#72bb50" stroke="#72bb50" stroke-width="0.1">T<tspan font-size="4.2" dy="2.0" stroke-width="0.04">CM</tspan></text>
<text x="267.7" y="172.3" font-size="6.1" fill="#72bb50" stroke="#72bb50" stroke-width="0.13">= T central memory</text>
<text x="246.4" y="182.3" font-size="6.6" fill="#c8143e" stroke="#c8143e" stroke-width="0.1">T<tspan font-size="4.2" dy="2.0" stroke-width="0.04">EM</tspan></text>
<text x="267.7" y="182.3" font-size="6.1" fill="#c8143e" stroke="#c8143e" stroke-width="0.13">= T effector memory</text>
<text x="246.4" y="192.3" font-size="6.6" fill="#c58a3e" stroke="#c58a3e" stroke-width="0.1">T<tspan font-size="3.8" dy="2.0" stroke-width="0.04">EMRA</tspan></text>
<text x="267.7" y="192.3" font-size="6.1" fill="#c58a3e" stroke="#c58a3e" stroke-width="0.13">= T effector memory CD45RA<tspan font-size="4.0" dy="-2.6" stroke-width="0.04">+</tspan></text>
<text x="246.4" y="202.3" font-size="6.6" fill="#222" stroke="#222" stroke-width="0.1">T<tspan font-size="4.2" dy="2.0" stroke-width="0.04">N</tspan></text>
<text x="267.7" y="202.3" font-size="6.1" fill="#222" stroke="#222" stroke-width="0.13">= T naive</text>
<text x="246.4" y="212.3" font-size="6.6" fill="#222" stroke="#222" stroke-width="0.1">T<tspan font-size="4.2" dy="2.0" stroke-width="0.04">SCM</tspan></text>
<text x="267.7" y="212.3" font-size="6.1" fill="#222" stroke="#222" stroke-width="0.13">= T memory stem cells</text>
<text x="6.80" y="252.60" font-size="11.6" text-anchor="start" fill="#000" font-weight="bold"  stroke="#000" stroke-width="0.16">D</text>
<line x1="47.70" y1="273.10" x2="47.70" y2="346.10" stroke="#151515" stroke-width="1.3" />
<line x1="47.10" y1="345.50" x2="115.00" y2="345.50" stroke="#151515" stroke-width="1.3" />
<line x1="44.70" y1="345.50" x2="47.70" y2="345.50" stroke="#151515" stroke-width="0.9" />
<text x="41.70" y="347.65" font-size="6.1" text-anchor="end" fill="#222" font-weight="normal" stroke="#222" stroke-width="0.16" >0</text>
<line x1="44.70" y1="331.40" x2="47.70" y2="331.40" stroke="#151515" stroke-width="0.9" />
<text x="41.70" y="333.55" font-size="6.1" text-anchor="end" fill="#222" font-weight="normal" stroke="#222" stroke-width="0.16" >20</text>
<line x1="44.70" y1="317.30" x2="47.70" y2="317.30" stroke="#151515" stroke-width="0.9" />
<text x="41.70" y="319.45" font-size="6.1" text-anchor="end" fill="#222" font-weight="normal" stroke="#222" stroke-width="0.16" >40</text>
<line x1="44.70" y1="303.20" x2="47.70" y2="303.20" stroke="#151515" stroke-width="0.9" />
<text x="41.70" y="305.35" font-size="6.1" text-anchor="end" fill="#222" font-weight="normal" stroke="#222" stroke-width="0.16" >60</text>
<line x1="44.70" y1="289.10" x2="47.70" y2="289.10" stroke="#151515" stroke-width="0.9" />
<text x="41.70" y="291.25" font-size="6.1" text-anchor="end" fill="#222" font-weight="normal" stroke="#222" stroke-width="0.16" >80</text>
<line x1="44.70" y1="275.00" x2="47.70" y2="275.00" stroke="#151515" stroke-width="0.9" />
<text x="41.70" y="277.15" font-size="6.1" text-anchor="end" fill="#222" font-weight="normal" stroke="#222" stroke-width="0.16" >100</text>
<line x1="66.90" y1="345.50" x2="66.90" y2="348.00" stroke="#151515" stroke-width="0.9" />
<text x="66.90" y="357.00" font-size="6.2" text-anchor="middle" fill="#222" font-weight="normal" stroke="#222" stroke-width="0.2" >D</text>
<line x1="96.30" y1="345.50" x2="96.30" y2="348.00" stroke="#151515" stroke-width="0.9" />
<text x="96.30" y="357.00" font-size="6.2" text-anchor="middle" fill="#222" font-weight="normal" stroke="#222" stroke-width="0.2" >R</text>
<text transform="translate(24.00,308.70) rotate(-90)" font-size="6.9" text-anchor="middle" fill="#222" stroke="#222" stroke-width="0.28" textLength="31.5" lengthAdjust="spacingAndGlyphs">% of CD4<tspan font-size="4.2" dy="-2.4" stroke-width="0.04">+</tspan><tspan dy="2.4"> T</tspan></text>
<text x="71.6" y="262.5" font-size="8.2" fill="#111" stroke="#111" stroke-width="0.16">T<tspan font-size="5.8" dy="2.0" stroke-width="0.07">Naive</tspan></text>
<line x1="66.90" y1="279.80" x2="97.50" y2="279.80" stroke="#1a1a1a" stroke-width="1.25" />
<line x1="66.90" y1="278.60" x2="66.90" y2="281.00" stroke="#1a1a1a" stroke-width="0.9" />
<line x1="97.50" y1="278.60" x2="97.50" y2="281.00" stroke="#1a1a1a" stroke-width="0.9" />
<text x="82.20" y="274.10" font-size="5.2" text-anchor="middle" fill="#333" font-weight="normal" stroke="#333" stroke-width="0.08" >&lt;0.0001</text>
<circle cx="66.90" cy="303.50" r="1.22" fill="#0e4630"/>
<circle cx="66.90" cy="308.80" r="1.22" fill="#0e4630"/>
<circle cx="61.50" cy="315.00" r="1.22" fill="#0e4630"/>
<circle cx="72.70" cy="312.10" r="1.22" fill="#0e4630"/>
<circle cx="66.90" cy="317.30" r="1.22" fill="#0e4630"/>
<circle cx="72.70" cy="316.90" r="1.22" fill="#0e4630"/>
<circle cx="61.50" cy="321.70" r="1.22" fill="#0e4630"/>
<circle cx="66.90" cy="323.70" r="1.22" fill="#0e4630"/>
<circle cx="72.70" cy="321.70" r="1.22" fill="#0e4630"/>
<circle cx="61.50" cy="327.50" r="1.22" fill="#0e4630"/>
<circle cx="78.50" cy="326.90" r="1.22" fill="#0e4630"/>
<circle cx="55.40" cy="327.50" r="1.22" fill="#0e4630"/>
<circle cx="66.90" cy="330.00" r="1.22" fill="#0e4630"/>
<circle cx="72.70" cy="331.30" r="1.22" fill="#0e4630"/>
<circle cx="78.50" cy="331.90" r="1.22" fill="#0e4630"/>
<circle cx="61.50" cy="333.30" r="1.22" fill="#0e4630"/>
<circle cx="66.90" cy="335.20" r="1.22" fill="#0e4630"/>
<circle cx="64.60" cy="339.60" r="1.22" fill="#0e4630"/>
<circle cx="69.80" cy="338.10" r="1.22" fill="#0e4630"/>
<rect x="93.25" y="317.05" width="2.5" height="2.5" rx="0.35" fill="#df8508"/>
<rect x="95.55" y="316.05" width="2.5" height="2.5" rx="0.35" fill="#df8508"/>
<rect x="94.45" y="326.45" width="2.5" height="2.5" rx="0.35" fill="#df8508"/>
<rect x="94.45" y="330.15" width="2.5" height="2.5" rx="0.35" fill="#df8508"/>
<rect x="95.55" y="335.65" width="2.5" height="2.5" rx="0.35" fill="#df8508"/>
<rect x="97.95" y="337.35" width="2.5" height="2.5" rx="0.35" fill="#df8508"/>
<rect x="95.55" y="338.35" width="2.5" height="2.5" rx="0.35" fill="#df8508"/>
<rect x="101.75" y="340.15" width="2.5" height="2.5" rx="0.35" fill="#df8508"/>
<rect x="83.25" y="339.95" width="2.5" height="2.5" rx="0.35" fill="#df8508"/>
<rect x="91.35" y="340.25" width="2.5" height="2.5" rx="0.35" fill="#df8508"/>
<rect x="82.75" y="343.05" width="2.5" height="2.5" rx="0.35" fill="#df8508"/>
<rect x="85.15" y="344.05" width="2.5" height="2.5" rx="0.35" fill="#df8508"/>
<rect x="87.55" y="343.05" width="2.5" height="2.5" rx="0.35" fill="#df8508"/>
<rect x="89.95" y="344.05" width="2.5" height="2.5" rx="0.35" fill="#df8508"/>
<rect x="92.35" y="343.05" width="2.5" height="2.5" rx="0.35" fill="#df8508"/>
<rect x="94.75" y="344.05" width="2.5" height="2.5" rx="0.35" fill="#df8508"/>
<rect x="97.15" y="343.05" width="2.5" height="2.5" rx="0.35" fill="#df8508"/>
<rect x="99.55" y="344.05" width="2.5" height="2.5" rx="0.35" fill="#df8508"/>
<rect x="101.95" y="343.05" width="2.5" height="2.5" rx="0.35" fill="#df8508"/>
<rect x="104.35" y="344.05" width="2.5" height="2.5" rx="0.35" fill="#df8508"/>
<rect x="106.75" y="343.05" width="2.5" height="2.5" rx="0.35" fill="#df8508"/>
<line x1="54.40" y1="327.10" x2="79.80" y2="327.10" stroke="#000" stroke-width="1.25" />
<line x1="83.30" y1="343.80" x2="108.80" y2="343.80" stroke="#000" stroke-width="1.25" />
<line x1="143.50" y1="273.10" x2="143.50" y2="346.20" stroke="#151515" stroke-width="1.3" />
<line x1="142.90" y1="345.60" x2="212.10" y2="345.60" stroke="#151515" stroke-width="1.3" />
<line x1="140.50" y1="345.60" x2="143.50" y2="345.60" stroke="#151515" stroke-width="0.9" />
<text x="137.50" y="347.75" font-size="6.1" text-anchor="end" fill="#222" font-weight="normal" stroke="#222" stroke-width="0.16" >0</text>
<line x1="140.50" y1="327.95" x2="143.50" y2="327.95" stroke="#151515" stroke-width="0.9" />
<text x="137.50" y="330.10" font-size="6.1" text-anchor="end" fill="#222" font-weight="normal" stroke="#222" stroke-width="0.16" >5</text>
<line x1="140.50" y1="310.30" x2="143.50" y2="310.30" stroke="#151515" stroke-width="0.9" />
<text x="137.50" y="312.45" font-size="6.1" text-anchor="end" fill="#222" font-weight="normal" stroke="#222" stroke-width="0.16" >10</text>
<line x1="140.50" y1="292.65" x2="143.50" y2="292.65" stroke="#151515" stroke-width="0.9" />
<text x="137.50" y="294.80" font-size="6.1" text-anchor="end" fill="#222" font-weight="normal" stroke="#222" stroke-width="0.16" >15</text>
<line x1="140.50" y1="275.00" x2="143.50" y2="275.00" stroke="#151515" stroke-width="0.9" />
<text x="137.50" y="277.15" font-size="6.1" text-anchor="end" fill="#222" font-weight="normal" stroke="#222" stroke-width="0.16" >20</text>
<line x1="163.10" y1="345.60" x2="163.10" y2="348.10" stroke="#151515" stroke-width="0.9" />
<text x="163.10" y="357.10" font-size="6.2" text-anchor="middle" fill="#222" font-weight="normal" stroke="#222" stroke-width="0.2" >D</text>
<line x1="192.90" y1="345.60" x2="192.90" y2="348.10" stroke="#151515" stroke-width="0.9" />
<text x="192.90" y="357.10" font-size="6.2" text-anchor="middle" fill="#222" font-weight="normal" stroke="#222" stroke-width="0.2" >R</text>
<text x="162.6" y="262.5" font-size="8.2" fill="#111" stroke="#111" stroke-width="0.16">T<tspan font-size="6.0" dy="2.0" stroke-width="0.07">SCM-like</tspan></text>
<line x1="162.60" y1="281.50" x2="194.80" y2="281.50" stroke="#1a1a1a" stroke-width="1.25" />
<line x1="162.60" y1="280.30" x2="162.60" y2="282.70" stroke="#1a1a1a" stroke-width="0.9" />
<line x1="194.80" y1="280.30" x2="194.80" y2="282.70" stroke="#1a1a1a" stroke-width="0.9" />
<text x="178.70" y="275.80" font-size="5.2" text-anchor="middle" fill="#333" font-weight="normal" stroke="#333" stroke-width="0.08" >0.3705</text>
<circle cx="163.10" cy="323.70" r="1.22" fill="#0e4630"/>
<circle cx="162.10" cy="328.80" r="1.22" fill="#0e4630"/>
<circle cx="164.60" cy="329.80" r="1.22" fill="#0e4630"/>
<circle cx="162.10" cy="332.30" r="1.22" fill="#0e4630"/>
<circle cx="164.60" cy="334.60" r="1.22" fill="#0e4630"/>
<circle cx="164.60" cy="338.80" r="1.22" fill="#0e4630"/>
<circle cx="154.40" cy="340.00" r="1.22" fill="#0e4630"/>
<circle cx="157.30" cy="341.30" r="1.22" fill="#0e4630"/>
<circle cx="151.50" cy="340.80" r="1.22" fill="#0e4630"/>
<circle cx="160.00" cy="341.50" r="1.22" fill="#0e4630"/>
<circle cx="168.00" cy="341.00" r="1.22" fill="#0e4630"/>
<circle cx="171.00" cy="341.50" r="1.22" fill="#0e4630"/>
<circle cx="174.00" cy="341.50" r="1.22" fill="#0e4630"/>
<circle cx="151.00" cy="343.40" r="1.22" fill="#0e4630"/>
<circle cx="153.40" cy="344.60" r="1.22" fill="#0e4630"/>
<circle cx="155.80" cy="343.40" r="1.22" fill="#0e4630"/>
<circle cx="158.20" cy="344.60" r="1.22" fill="#0e4630"/>
<circle cx="160.60" cy="343.40" r="1.22" fill="#0e4630"/>
<circle cx="163.00" cy="344.60" r="1.22" fill="#0e4630"/>
<circle cx="165.40" cy="343.40" r="1.22" fill="#0e4630"/>
<circle cx="167.80" cy="344.60" r="1.22" fill="#0e4630"/>
<circle cx="170.20" cy="343.40" r="1.22" fill="#0e4630"/>
<circle cx="172.60" cy="344.60" r="1.22" fill="#0e4630"/>
<circle cx="175.00" cy="343.40" r="1.22" fill="#0e4630"/>
<rect x="187.75" y="328.55" width="2.5" height="2.5" rx="0.35" fill="#df8508"/>
<rect x="190.65" y="330.45" width="2.5" height="2.5" rx="0.35" fill="#df8508"/>
<rect x="195.45" y="333.35" width="2.5" height="2.5" rx="0.35" fill="#df8508"/>
<rect x="187.75" y="333.35" width="2.5" height="2.5" rx="0.35" fill="#df8508"/>
<rect x="182.95" y="335.25" width="2.5" height="2.5" rx="0.35" fill="#df8508"/>
<rect x="192.55" y="336.25" width="2.5" height="2.5" rx="0.35" fill="#df8508"/>
<rect x="187.75" y="338.15" width="2.5" height="2.5" rx="0.35" fill="#df8508"/>
<rect x="197.45" y="339.15" width="2.5" height="2.5" rx="0.35" fill="#df8508"/>
<rect x="180.05" y="340.05" width="2.5" height="2.5" rx="0.35" fill="#df8508"/>
<rect x="202.25" y="340.65" width="2.5" height="2.5" rx="0.35" fill="#df8508"/>
<rect x="184.75" y="340.25" width="2.5" height="2.5" rx="0.35" fill="#df8508"/>
<rect x="191.75" y="340.55" width="2.5" height="2.5" rx="0.35" fill="#df8508"/>
<rect x="179.75" y="342.45" width="2.5" height="2.5" rx="0.35" fill="#df8508"/>
<rect x="182.15" y="343.65" width="2.5" height="2.5" rx="0.35" fill="#df8508"/>
<rect x="184.55" y="342.45" width="2.5" height="2.5" rx="0.35" fill="#df8508"/>
<rect x="186.95" y="343.65" width="2.5" height="2.5" rx="0.35" fill="#df8508"/>
<rect x="189.35" y="342.45" width="2.5" height="2.5" rx="0.35" fill="#df8508"/>
<rect x="191.75" y="343.65" width="2.5" height="2.5" rx="0.35" fill="#df8508"/>
<rect x="194.15" y="342.45" width="2.5" height="2.5" rx="0.35" fill="#df8508"/>
<rect x="196.55" y="343.65" width="2.5" height="2.5" rx="0.35" fill="#df8508"/>
<rect x="198.95" y="342.45" width="2.5" height="2.5" rx="0.35" fill="#df8508"/>
<rect x="201.35" y="343.65" width="2.5" height="2.5" rx="0.35" fill="#df8508"/>
<rect x="203.75" y="342.45" width="2.5" height="2.5" rx="0.35" fill="#df8508"/>
<line x1="150.60" y1="341.30" x2="176.20" y2="341.30" stroke="#000" stroke-width="1.25" />
<line x1="180.00" y1="342.30" x2="205.40" y2="342.30" stroke="#000" stroke-width="1.25" />
<line x1="244.80" y1="275.00" x2="244.80" y2="346.20" stroke="#151515" stroke-width="1.3" />
<line x1="244.20" y1="345.60" x2="312.10" y2="345.60" stroke="#151515" stroke-width="1.3" />
<line x1="241.80" y1="345.60" x2="244.80" y2="345.60" stroke="#151515" stroke-width="0.9" />
<text x="238.80" y="347.75" font-size="6.1" text-anchor="end" fill="#222" font-weight="normal" stroke="#222" stroke-width="0.16" >0</text>
<line x1="241.80" y1="332.14" x2="244.80" y2="332.14" stroke="#151515" stroke-width="0.9" />
<text x="238.80" y="334.29" font-size="6.1" text-anchor="end" fill="#222" font-weight="normal" stroke="#222" stroke-width="0.16" >20</text>
<line x1="241.80" y1="318.68" x2="244.80" y2="318.68" stroke="#151515" stroke-width="0.9" />
<text x="238.80" y="320.83" font-size="6.1" text-anchor="end" fill="#222" font-weight="normal" stroke="#222" stroke-width="0.16" >40</text>
<line x1="241.80" y1="305.22" x2="244.80" y2="305.22" stroke="#151515" stroke-width="0.9" />
<text x="238.80" y="307.37" font-size="6.1" text-anchor="end" fill="#222" font-weight="normal" stroke="#222" stroke-width="0.16" >60</text>
<line x1="241.80" y1="291.76" x2="244.80" y2="291.76" stroke="#151515" stroke-width="0.9" />
<text x="238.80" y="293.91" font-size="6.1" text-anchor="end" fill="#222" font-weight="normal" stroke="#222" stroke-width="0.16" >80</text>
<line x1="241.80" y1="278.30" x2="244.80" y2="278.30" stroke="#151515" stroke-width="0.9" />
<text x="238.80" y="280.45" font-size="6.1" text-anchor="end" fill="#222" font-weight="normal" stroke="#222" stroke-width="0.16" >100</text>
<line x1="264.60" y1="345.60" x2="264.60" y2="348.10" stroke="#151515" stroke-width="0.9" />
<text x="264.60" y="357.10" font-size="6.2" text-anchor="middle" fill="#222" font-weight="normal" stroke="#222" stroke-width="0.2" >D</text>
<line x1="293.50" y1="345.60" x2="293.50" y2="348.10" stroke="#151515" stroke-width="0.9" />
<text x="293.50" y="357.10" font-size="6.2" text-anchor="middle" fill="#222" font-weight="normal" stroke="#222" stroke-width="0.2" >R</text>
<text x="272.2" y="262.5" font-size="8.2" fill="#111" stroke="#111" stroke-width="0.16">T<tspan font-size="5.8" dy="2.0" stroke-width="0.07">CM</tspan></text>
<line x1="264.30" y1="282.50" x2="296.50" y2="282.50" stroke="#1a1a1a" stroke-width="1.25" />
<line x1="264.30" y1="281.30" x2="264.30" y2="283.70" stroke="#1a1a1a" stroke-width="0.9" />
<line x1="296.50" y1="281.30" x2="296.50" y2="283.70" stroke="#1a1a1a" stroke-width="0.9" />
<text x="280.40" y="276.80" font-size="5.2" text-anchor="middle" fill="#333" font-weight="normal" stroke="#333" stroke-width="0.08" >0.2221</text>
<circle cx="264.60" cy="299.60" r="1.22" fill="#0e4630"/>
<circle cx="270.40" cy="299.00" r="1.22" fill="#0e4630"/>
<circle cx="258.80" cy="301.90" r="1.22" fill="#0e4630"/>
<circle cx="264.60" cy="304.80" r="1.22" fill="#0e4630"/>
<circle cx="270.40" cy="304.20" r="1.22" fill="#0e4630"/>
<circle cx="261.20" cy="308.70" r="1.22" fill="#0e4630"/>
<circle cx="267.30" cy="308.10" r="1.22" fill="#0e4630"/>
<circle cx="264.60" cy="311.90" r="1.22" fill="#0e4630"/>
<circle cx="270.40" cy="312.50" r="1.22" fill="#0e4630"/>
<circle cx="258.80" cy="314.80" r="1.22" fill="#0e4630"/>
<circle cx="264.60" cy="314.80" r="1.22" fill="#0e4630"/>
<circle cx="276.20" cy="313.50" r="1.22" fill="#0e4630"/>
<circle cx="253.10" cy="316.30" r="1.22" fill="#0e4630"/>
<circle cx="276.20" cy="316.30" r="1.22" fill="#0e4630"/>
<circle cx="253.10" cy="318.30" r="1.22" fill="#0e4630"/>
<circle cx="261.20" cy="319.20" r="1.22" fill="#0e4630"/>
<circle cx="267.30" cy="319.20" r="1.22" fill="#0e4630"/>
<circle cx="258.80" cy="322.10" r="1.22" fill="#0e4630"/>
<circle cx="264.60" cy="322.70" r="1.22" fill="#0e4630"/>
<circle cx="270.40" cy="323.70" r="1.22" fill="#0e4630"/>
<circle cx="264.60" cy="326.50" r="1.22" fill="#0e4630"/>
<circle cx="264.60" cy="334.60" r="1.22" fill="#0e4630"/>
<rect x="289.75" y="299.75" width="2.5" height="2.5" rx="0.35" fill="#df8508"/>
<rect x="295.45" y="297.75" width="2.5" height="2.5" rx="0.35" fill="#df8508"/>
<rect x="295.45" y="301.65" width="2.5" height="2.5" rx="0.35" fill="#df8508"/>
<rect x="295.45" y="305.45" width="2.5" height="2.5" rx="0.35" fill="#df8508"/>
<rect x="289.75" y="307.45" width="2.5" height="2.5" rx="0.35" fill="#df8508"/>
<rect x="301.25" y="307.95" width="2.5" height="2.5" rx="0.35" fill="#df8508"/>
<rect x="284.55" y="309.95" width="2.5" height="2.5" rx="0.35" fill="#df8508"/>
<rect x="289.75" y="310.65" width="2.5" height="2.5" rx="0.35" fill="#df8508"/>
<rect x="295.45" y="310.25" width="2.5" height="2.5" rx="0.35" fill="#df8508"/>
<rect x="284.55" y="315.05" width="2.5" height="2.5" rx="0.35" fill="#df8508"/>
<rect x="289.75" y="315.65" width="2.5" height="2.5" rx="0.35" fill="#df8508"/>
<rect x="295.45" y="317.55" width="2.5" height="2.5" rx="0.35" fill="#df8508"/>
<rect x="289.75" y="318.35" width="2.5" height="2.5" rx="0.35" fill="#df8508"/>
<rect x="284.55" y="323.75" width="2.5" height="2.5" rx="0.35" fill="#df8508"/>
<rect x="289.75" y="326.65" width="2.5" height="2.5" rx="0.35" fill="#df8508"/>
<rect x="295.45" y="327.55" width="2.5" height="2.5" rx="0.35" fill="#df8508"/>
<rect x="284.55" y="328.55" width="2.5" height="2.5" rx="0.35" fill="#df8508"/>
<rect x="289.75" y="329.95" width="2.5" height="2.5" rx="0.35" fill="#df8508"/>
<rect x="295.45" y="330.45" width="2.5" height="2.5" rx="0.35" fill="#df8508"/>
<rect x="289.75" y="334.35" width="2.5" height="2.5" rx="0.35" fill="#df8508"/>
<rect x="295.45" y="336.25" width="2.5" height="2.5" rx="0.35" fill="#df8508"/>
<rect x="292.55" y="340.05" width="2.5" height="2.5" rx="0.35" fill="#df8508"/>
<line x1="251.50" y1="315.00" x2="277.50" y2="315.00" stroke="#000" stroke-width="1.25" />
<line x1="280.40" y1="317.70" x2="307.00" y2="317.70" stroke="#000" stroke-width="1.25" />
<line x1="345.20" y1="276.50" x2="345.20" y2="346.20" stroke="#151515" stroke-width="1.3" />
<line x1="344.60" y1="345.60" x2="411.50" y2="345.60" stroke="#151515" stroke-width="1.3" />
<line x1="342.20" y1="345.60" x2="345.20" y2="345.60" stroke="#151515" stroke-width="0.9" />
<text x="339.20" y="347.75" font-size="6.1" text-anchor="end" fill="#222" font-weight="normal" stroke="#222" stroke-width="0.16" >0</text>
<line x1="342.20" y1="332.24" x2="345.20" y2="332.24" stroke="#151515" stroke-width="0.9" />
<text x="339.20" y="334.39" font-size="6.1" text-anchor="end" fill="#222" font-weight="normal" stroke="#222" stroke-width="0.16" >20</text>
<line x1="342.20" y1="318.88" x2="345.20" y2="318.88" stroke="#151515" stroke-width="0.9" />
<text x="339.20" y="321.03" font-size="6.1" text-anchor="end" fill="#222" font-weight="normal" stroke="#222" stroke-width="0.16" >40</text>
<line x1="342.20" y1="305.52" x2="345.20" y2="305.52" stroke="#151515" stroke-width="0.9" />
<text x="339.20" y="307.67" font-size="6.1" text-anchor="end" fill="#222" font-weight="normal" stroke="#222" stroke-width="0.16" >60</text>
<line x1="342.20" y1="292.16" x2="345.20" y2="292.16" stroke="#151515" stroke-width="0.9" />
<text x="339.20" y="294.31" font-size="6.1" text-anchor="end" fill="#222" font-weight="normal" stroke="#222" stroke-width="0.16" >80</text>
<line x1="342.20" y1="278.80" x2="345.20" y2="278.80" stroke="#151515" stroke-width="0.9" />
<text x="339.20" y="280.95" font-size="6.1" text-anchor="end" fill="#222" font-weight="normal" stroke="#222" stroke-width="0.16" >100</text>
<line x1="364.60" y1="345.60" x2="364.60" y2="348.10" stroke="#151515" stroke-width="0.9" />
<text x="364.60" y="357.10" font-size="6.2" text-anchor="middle" fill="#222" font-weight="normal" stroke="#222" stroke-width="0.2" >D</text>
<line x1="393.50" y1="345.60" x2="393.50" y2="348.10" stroke="#151515" stroke-width="0.9" />
<text x="393.50" y="357.10" font-size="6.2" text-anchor="middle" fill="#222" font-weight="normal" stroke="#222" stroke-width="0.2" >R</text>
<text x="372.2" y="262.5" font-size="8.2" fill="#111" stroke="#111" stroke-width="0.16">T<tspan font-size="5.8" dy="2.0" stroke-width="0.07">EM</tspan></text>
<line x1="364.60" y1="279.80" x2="394.20" y2="279.80" stroke="#1a1a1a" stroke-width="1.25" />
<line x1="364.60" y1="278.60" x2="364.60" y2="281.00" stroke="#1a1a1a" stroke-width="0.9" />
<line x1="394.20" y1="278.60" x2="394.20" y2="281.00" stroke="#1a1a1a" stroke-width="0.9" />
<text x="379.40" y="274.10" font-size="5.2" text-anchor="middle" fill="#333" font-weight="normal" stroke="#333" stroke-width="0.08" >&lt;0.0001</text>
<circle cx="364.60" cy="315.00" r="1.22" fill="#0e4630"/>
<circle cx="362.10" cy="320.20" r="1.22" fill="#0e4630"/>
<circle cx="366.90" cy="322.70" r="1.22" fill="#0e4630"/>
<circle cx="357.70" cy="327.90" r="1.22" fill="#0e4630"/>
<circle cx="371.70" cy="328.50" r="1.22" fill="#0e4630"/>
<circle cx="357.70" cy="332.30" r="1.22" fill="#0e4630"/>
<circle cx="366.90" cy="331.70" r="1.22" fill="#0e4630"/>
<circle cx="371.70" cy="332.30" r="1.22" fill="#0e4630"/>
<circle cx="353.50" cy="334.60" r="1.22" fill="#0e4630"/>
<circle cx="362.10" cy="332.70" r="1.22" fill="#0e4630"/>
<circle cx="376.20" cy="334.20" r="1.22" fill="#0e4630"/>
<circle cx="353.50" cy="339.40" r="1.22" fill="#0e4630"/>
<circle cx="357.70" cy="339.40" r="1.22" fill="#0e4630"/>
<circle cx="362.10" cy="338.80" r="1.22" fill="#0e4630"/>
<circle cx="366.90" cy="338.80" r="1.22" fill="#0e4630"/>
<circle cx="371.70" cy="339.40" r="1.22" fill="#0e4630"/>
<circle cx="376.20" cy="339.40" r="1.22" fill="#0e4630"/>
<circle cx="357.70" cy="342.70" r="1.22" fill="#0e4630"/>
<circle cx="366.90" cy="341.90" r="1.22" fill="#0e4630"/>
<rect x="392.55" y="285.25" width="2.5" height="2.5" rx="0.35" fill="#df8508"/>
<rect x="392.55" y="288.75" width="2.5" height="2.5" rx="0.35" fill="#df8508"/>
<rect x="386.85" y="293.35" width="2.5" height="2.5" rx="0.35" fill="#df8508"/>
<rect x="397.95" y="290.65" width="2.5" height="2.5" rx="0.35" fill="#df8508"/>
<rect x="392.55" y="295.25" width="2.5" height="2.5" rx="0.35" fill="#df8508"/>
<rect x="392.55" y="299.75" width="2.5" height="2.5" rx="0.35" fill="#df8508"/>
<rect x="392.55" y="303.55" width="2.5" height="2.5" rx="0.35" fill="#df8508"/>
<rect x="392.55" y="309.35" width="2.5" height="2.5" rx="0.35" fill="#df8508"/>
<rect x="392.55" y="312.25" width="2.5" height="2.5" rx="0.35" fill="#df8508"/>
<rect x="392.55" y="315.05" width="2.5" height="2.5" rx="0.35" fill="#df8508"/>
<rect x="392.55" y="317.95" width="2.5" height="2.5" rx="0.35" fill="#df8508"/>
<rect x="397.95" y="320.85" width="2.5" height="2.5" rx="0.35" fill="#df8508"/>
<rect x="387.25" y="326.05" width="2.5" height="2.5" rx="0.35" fill="#df8508"/>
<rect x="392.55" y="325.65" width="2.5" height="2.5" rx="0.35" fill="#df8508"/>
<rect x="397.95" y="325.65" width="2.5" height="2.5" rx="0.35" fill="#df8508"/>
<rect x="397.95" y="327.95" width="2.5" height="2.5" rx="0.35" fill="#df8508"/>
<rect x="387.25" y="331.05" width="2.5" height="2.5" rx="0.35" fill="#df8508"/>
<rect x="392.55" y="329.95" width="2.5" height="2.5" rx="0.35" fill="#df8508"/>
<rect x="397.95" y="333.35" width="2.5" height="2.5" rx="0.35" fill="#df8508"/>
<rect x="392.55" y="335.65" width="2.5" height="2.5" rx="0.35" fill="#df8508"/>
<rect x="389.75" y="339.15" width="2.5" height="2.5" rx="0.35" fill="#df8508"/>
<rect x="395.45" y="338.15" width="2.5" height="2.5" rx="0.35" fill="#df8508"/>
<line x1="352.50" y1="335.60" x2="377.50" y2="335.60" stroke="#000" stroke-width="1.25" />
<line x1="381.90" y1="320.80" x2="406.90" y2="320.80" stroke="#000" stroke-width="1.25" />
<line x1="446.20" y1="276.00" x2="446.20" y2="346.20" stroke="#151515" stroke-width="1.3" />
<line x1="445.60" y1="345.60" x2="511.20" y2="345.60" stroke="#151515" stroke-width="1.3" />
<line x1="443.20" y1="345.60" x2="446.20" y2="345.60" stroke="#151515" stroke-width="0.9" />
<text x="440.20" y="347.75" font-size="6.1" text-anchor="end" fill="#222" font-weight="normal" stroke="#222" stroke-width="0.16" >0.01</text>
<line x1="443.20" y1="328.90" x2="446.20" y2="328.90" stroke="#151515" stroke-width="0.9" />
<text x="440.20" y="331.05" font-size="6.1" text-anchor="end" fill="#222" font-weight="normal" stroke="#222" stroke-width="0.16" >0.1</text>
<line x1="443.20" y1="312.20" x2="446.20" y2="312.20" stroke="#151515" stroke-width="0.9" />
<text x="440.20" y="314.35" font-size="6.1" text-anchor="end" fill="#222" font-weight="normal" stroke="#222" stroke-width="0.16" >1</text>
<line x1="443.20" y1="295.50" x2="446.20" y2="295.50" stroke="#151515" stroke-width="0.9" />
<text x="440.20" y="297.65" font-size="6.1" text-anchor="end" fill="#222" font-weight="normal" stroke="#222" stroke-width="0.16" >10</text>
<line x1="443.20" y1="278.80" x2="446.20" y2="278.80" stroke="#151515" stroke-width="0.9" />
<text x="440.20" y="280.95" font-size="6.1" text-anchor="end" fill="#222" font-weight="normal" stroke="#222" stroke-width="0.16" >100</text>
<line x1="444.60" y1="340.57" x2="446.20" y2="340.57" stroke="#151515" stroke-width="0.6" />
<line x1="444.60" y1="337.63" x2="446.20" y2="337.63" stroke="#151515" stroke-width="0.6" />
<line x1="444.60" y1="335.55" x2="446.20" y2="335.55" stroke="#151515" stroke-width="0.6" />
<line x1="444.60" y1="333.93" x2="446.20" y2="333.93" stroke="#151515" stroke-width="0.6" />
<line x1="444.60" y1="332.60" x2="446.20" y2="332.60" stroke="#151515" stroke-width="0.6" />
<line x1="444.60" y1="331.49" x2="446.20" y2="331.49" stroke="#151515" stroke-width="0.6" />
<line x1="444.60" y1="330.52" x2="446.20" y2="330.52" stroke="#151515" stroke-width="0.6" />
<line x1="444.60" y1="329.66" x2="446.20" y2="329.66" stroke="#151515" stroke-width="0.6" />
<line x1="444.60" y1="323.87" x2="446.20" y2="323.87" stroke="#151515" stroke-width="0.6" />
<line x1="444.60" y1="320.93" x2="446.20" y2="320.93" stroke="#151515" stroke-width="0.6" />
<line x1="444.60" y1="318.85" x2="446.20" y2="318.85" stroke="#151515" stroke-width="0.6" />
<line x1="444.60" y1="317.23" x2="446.20" y2="317.23" stroke="#151515" stroke-width="0.6" />
<line x1="444.60" y1="315.90" x2="446.20" y2="315.90" stroke="#151515" stroke-width="0.6" />
<line x1="444.60" y1="314.79" x2="446.20" y2="314.79" stroke="#151515" stroke-width="0.6" />
<line x1="444.60" y1="313.82" x2="446.20" y2="313.82" stroke="#151515" stroke-width="0.6" />
<line x1="444.60" y1="312.96" x2="446.20" y2="312.96" stroke="#151515" stroke-width="0.6" />
<line x1="444.60" y1="307.17" x2="446.20" y2="307.17" stroke="#151515" stroke-width="0.6" />
<line x1="444.60" y1="304.23" x2="446.20" y2="304.23" stroke="#151515" stroke-width="0.6" />
<line x1="444.60" y1="302.15" x2="446.20" y2="302.15" stroke="#151515" stroke-width="0.6" />
<line x1="444.60" y1="300.53" x2="446.20" y2="300.53" stroke="#151515" stroke-width="0.6" />
<line x1="444.60" y1="299.20" x2="446.20" y2="299.20" stroke="#151515" stroke-width="0.6" />
<line x1="444.60" y1="298.09" x2="446.20" y2="298.09" stroke="#151515" stroke-width="0.6" />
<line x1="444.60" y1="297.12" x2="446.20" y2="297.12" stroke="#151515" stroke-width="0.6" />
<line x1="444.60" y1="296.26" x2="446.20" y2="296.26" stroke="#151515" stroke-width="0.6" />
<line x1="444.60" y1="290.47" x2="446.20" y2="290.47" stroke="#151515" stroke-width="0.6" />
<line x1="444.60" y1="287.53" x2="446.20" y2="287.53" stroke="#151515" stroke-width="0.6" />
<line x1="444.60" y1="285.45" x2="446.20" y2="285.45" stroke="#151515" stroke-width="0.6" />
<line x1="444.60" y1="283.83" x2="446.20" y2="283.83" stroke="#151515" stroke-width="0.6" />
<line x1="444.60" y1="282.50" x2="446.20" y2="282.50" stroke="#151515" stroke-width="0.6" />
<line x1="444.60" y1="281.39" x2="446.20" y2="281.39" stroke="#151515" stroke-width="0.6" />
<line x1="444.60" y1="280.42" x2="446.20" y2="280.42" stroke="#151515" stroke-width="0.6" />
<line x1="444.60" y1="279.56" x2="446.20" y2="279.56" stroke="#151515" stroke-width="0.6" />
<line x1="465.40" y1="345.60" x2="465.40" y2="348.10" stroke="#151515" stroke-width="0.9" />
<text x="465.40" y="357.10" font-size="6.2" text-anchor="middle" fill="#222" font-weight="normal" stroke="#222" stroke-width="0.2" >D</text>
<line x1="493.50" y1="345.60" x2="493.50" y2="348.10" stroke="#151515" stroke-width="0.9" />
<text x="493.50" y="357.10" font-size="6.2" text-anchor="middle" fill="#222" font-weight="normal" stroke="#222" stroke-width="0.2" >R</text>
<text x="469.0" y="262.5" font-size="8.2" fill="#111" stroke="#111" stroke-width="0.16">T<tspan font-size="5.8" dy="2.0" stroke-width="0.07">EMRA</tspan></text>
<line x1="465.40" y1="279.40" x2="493.50" y2="279.40" stroke="#1a1a1a" stroke-width="1.25" />
<line x1="465.40" y1="278.20" x2="465.40" y2="280.60" stroke="#1a1a1a" stroke-width="0.9" />
<line x1="493.50" y1="278.20" x2="493.50" y2="280.60" stroke="#1a1a1a" stroke-width="0.9" />
<text x="479.45" y="273.70" font-size="5.2" text-anchor="middle" fill="#333" font-weight="normal" stroke="#333" stroke-width="0.08" >0.2901</text>
<circle cx="465.40" cy="292.30" r="1.22" fill="#0e4630"/>
<circle cx="457.70" cy="300.40" r="1.22" fill="#0e4630"/>
<circle cx="462.10" cy="301.00" r="1.22" fill="#0e4630"/>
<circle cx="469.20" cy="301.50" r="1.22" fill="#0e4630"/>
<circle cx="473.10" cy="300.00" r="1.22" fill="#0e4630"/>
<circle cx="465.40" cy="303.50" r="1.22" fill="#0e4630"/>
<circle cx="473.10" cy="306.20" r="1.22" fill="#0e4630"/>
<circle cx="457.70" cy="307.70" r="1.22" fill="#0e4630"/>
<circle cx="453.80" cy="310.00" r="1.22" fill="#0e4630"/>
<circle cx="462.10" cy="310.00" r="1.22" fill="#0e4630"/>
<circle cx="469.20" cy="308.70" r="1.22" fill="#0e4630"/>
<circle cx="476.90" cy="308.70" r="1.22" fill="#0e4630"/>
<circle cx="465.40" cy="311.20" r="1.22" fill="#0e4630"/>
<circle cx="473.10" cy="311.20" r="1.22" fill="#0e4630"/>
<circle cx="457.70" cy="313.50" r="1.22" fill="#0e4630"/>
<circle cx="465.40" cy="313.80" r="1.22" fill="#0e4630"/>
<circle cx="473.10" cy="313.50" r="1.22" fill="#0e4630"/>
<circle cx="463.50" cy="321.20" r="1.22" fill="#0e4630"/>
<circle cx="467.30" cy="320.80" r="1.22" fill="#0e4630"/>
<circle cx="465.40" cy="327.50" r="1.22" fill="#0e4630"/>
<circle cx="465.40" cy="332.70" r="1.22" fill="#0e4630"/>
<rect x="492.25" y="284.35" width="2.5" height="2.5" rx="0.35" fill="#df8508"/>
<rect x="492.25" y="292.55" width="2.5" height="2.5" rx="0.35" fill="#df8508"/>
<rect x="492.25" y="295.45" width="2.5" height="2.5" rx="0.35" fill="#df8508"/>
<rect x="481.05" y="300.25" width="2.5" height="2.5" rx="0.35" fill="#df8508"/>
<rect x="485.85" y="302.55" width="2.5" height="2.5" rx="0.35" fill="#df8508"/>
<rect x="490.25" y="300.25" width="2.5" height="2.5" rx="0.35" fill="#df8508"/>
<rect x="494.55" y="300.25" width="2.5" height="2.5" rx="0.35" fill="#df8508"/>
<rect x="498.75" y="301.05" width="2.5" height="2.5" rx="0.35" fill="#df8508"/>
<rect x="503.15" y="300.25" width="2.5" height="2.5" rx="0.35" fill="#df8508"/>
<rect x="485.85" y="305.45" width="2.5" height="2.5" rx="0.35" fill="#df8508"/>
<rect x="490.25" y="304.55" width="2.5" height="2.5" rx="0.35" fill="#df8508"/>
<rect x="494.55" y="303.55" width="2.5" height="2.5" rx="0.35" fill="#df8508"/>
<rect x="481.05" y="305.45" width="2.5" height="2.5" rx="0.35" fill="#df8508"/>
<rect x="490.25" y="307.95" width="2.5" height="2.5" rx="0.35" fill="#df8508"/>
<rect x="494.55" y="307.45" width="2.5" height="2.5" rx="0.35" fill="#df8508"/>
<rect x="490.25" y="311.25" width="2.5" height="2.5" rx="0.35" fill="#df8508"/>
<rect x="494.55" y="311.25" width="2.5" height="2.5" rx="0.35" fill="#df8508"/>
<rect x="490.25" y="314.55" width="2.5" height="2.5" rx="0.35" fill="#df8508"/>
<rect x="494.55" y="314.55" width="2.5" height="2.5" rx="0.35" fill="#df8508"/>
<rect x="492.25" y="321.45" width="2.5" height="2.5" rx="0.35" fill="#df8508"/>
<line x1="453.10" y1="310.20" x2="478.10" y2="310.20" stroke="#000" stroke-width="1.25" />
<line x1="481.30" y1="306.30" x2="505.80" y2="306.30" stroke="#000" stroke-width="1.25" />
<line x1="47.70" y1="377.30" x2="47.70" y2="448.10" stroke="#151515" stroke-width="1.3" />
<line x1="47.10" y1="447.50" x2="115.00" y2="447.50" stroke="#151515" stroke-width="1.3" />
<line x1="44.70" y1="447.50" x2="47.70" y2="447.50" stroke="#151515" stroke-width="0.9" />
<text x="41.70" y="449.65" font-size="6.1" text-anchor="end" fill="#222" font-weight="normal" stroke="#222" stroke-width="0.16" >0</text>
<line x1="44.70" y1="433.92" x2="47.70" y2="433.92" stroke="#151515" stroke-width="0.9" />
<text x="41.70" y="436.07" font-size="6.1" text-anchor="end" fill="#222" font-weight="normal" stroke="#222" stroke-width="0.16" >20</text>
<line x1="44.70" y1="420.34" x2="47.70" y2="420.34" stroke="#151515" stroke-width="0.9" />
<text x="41.70" y="422.49" font-size="6.1" text-anchor="end" fill="#222" font-weight="normal" stroke="#222" stroke-width="0.16" >40</text>
<line x1="44.70" y1="406.76" x2="47.70" y2="406.76" stroke="#151515" stroke-width="0.9" />
<text x="41.70" y="408.91" font-size="6.1" text-anchor="end" fill="#222" font-weight="normal" stroke="#222" stroke-width="0.16" >60</text>
<line x1="44.70" y1="393.18" x2="47.70" y2="393.18" stroke="#151515" stroke-width="0.9" />
<text x="41.70" y="395.33" font-size="6.1" text-anchor="end" fill="#222" font-weight="normal" stroke="#222" stroke-width="0.16" >80</text>
<line x1="44.70" y1="379.60" x2="47.70" y2="379.60" stroke="#151515" stroke-width="0.9" />
<text x="41.70" y="381.75" font-size="6.1" text-anchor="end" fill="#222" font-weight="normal" stroke="#222" stroke-width="0.16" >100</text>
<line x1="67.30" y1="447.50" x2="67.30" y2="450.00" stroke="#151515" stroke-width="0.9" />
<text x="67.30" y="459.00" font-size="6.2" text-anchor="middle" fill="#222" font-weight="normal" stroke="#222" stroke-width="0.2" >D</text>
<line x1="97.30" y1="447.50" x2="97.30" y2="450.00" stroke="#151515" stroke-width="0.9" />
<text x="97.30" y="459.00" font-size="6.2" text-anchor="middle" fill="#222" font-weight="normal" stroke="#222" stroke-width="0.2" >R</text>
<text transform="translate(24.00,412.40) rotate(-90)" font-size="6.9" text-anchor="middle" fill="#222" stroke="#222" stroke-width="0.28" textLength="31.5" lengthAdjust="spacingAndGlyphs">% of CD8<tspan font-size="4.2" dy="-2.4" stroke-width="0.04">+</tspan><tspan dy="2.4"> T</tspan></text>
<line x1="67.30" y1="384.40" x2="98.50" y2="384.40" stroke="#1a1a1a" stroke-width="1.25" />
<line x1="67.30" y1="383.20" x2="67.30" y2="385.60" stroke="#1a1a1a" stroke-width="0.9" />
<line x1="98.50" y1="383.20" x2="98.50" y2="385.60" stroke="#1a1a1a" stroke-width="0.9" />
<text x="82.90" y="378.70" font-size="5.2" text-anchor="middle" fill="#333" font-weight="normal" stroke="#333" stroke-width="0.08" >&lt;0.0001</text>
<circle cx="67.30" cy="398.10" r="1.22" fill="#0e4630"/>
<circle cx="59.20" cy="410.40" r="1.22" fill="#0e4630"/>
<circle cx="64.60" cy="414.80" r="1.22" fill="#0e4630"/>
<circle cx="70.40" cy="411.50" r="1.22" fill="#0e4630"/>
<circle cx="70.40" cy="414.80" r="1.22" fill="#0e4630"/>
<circle cx="75.60" cy="411.90" r="1.22" fill="#0e4630"/>
<circle cx="59.20" cy="419.20" r="1.22" fill="#0e4630"/>
<circle cx="64.60" cy="423.10" r="1.22" fill="#0e4630"/>
<circle cx="70.40" cy="421.20" r="1.22" fill="#0e4630"/>
<circle cx="75.60" cy="421.90" r="1.22" fill="#0e4630"/>
<circle cx="64.60" cy="426.90" r="1.22" fill="#0e4630"/>
<circle cx="70.40" cy="427.30" r="1.22" fill="#0e4630"/>
<circle cx="64.60" cy="432.70" r="1.22" fill="#0e4630"/>
<circle cx="70.40" cy="432.70" r="1.22" fill="#0e4630"/>
<circle cx="70.40" cy="434.60" r="1.22" fill="#0e4630"/>
<circle cx="59.20" cy="442.30" r="1.22" fill="#0e4630"/>
<circle cx="64.60" cy="440.40" r="1.22" fill="#0e4630"/>
<circle cx="75.60" cy="443.70" r="1.22" fill="#0e4630"/>
<circle cx="59.20" cy="446.20" r="1.22" fill="#0e4630"/>
<circle cx="70.40" cy="446.20" r="1.22" fill="#0e4630"/>
<rect x="95.45" y="409.15" width="2.5" height="2.5" rx="0.35" fill="#df8508"/>
<rect x="95.45" y="432.75" width="2.5" height="2.5" rx="0.35" fill="#df8508"/>
<rect x="93.55" y="434.15" width="2.5" height="2.5" rx="0.35" fill="#df8508"/>
<rect x="97.45" y="433.75" width="2.5" height="2.5" rx="0.35" fill="#df8508"/>
<rect x="99.35" y="437.25" width="2.5" height="2.5" rx="0.35" fill="#df8508"/>
<rect x="93.55" y="439.55" width="2.5" height="2.5" rx="0.35" fill="#df8508"/>
<rect x="96.45" y="439.55" width="2.5" height="2.5" rx="0.35" fill="#df8508"/>
<rect x="99.35" y="442.95" width="2.5" height="2.5" rx="0.35" fill="#df8508"/>
<rect x="88.75" y="443.35" width="2.5" height="2.5" rx="0.35" fill="#df8508"/>
<rect x="83.25" y="444.75" width="2.5" height="2.5" rx="0.35" fill="#df8508"/>
<rect x="85.65" y="445.85" width="2.5" height="2.5" rx="0.35" fill="#df8508"/>
<rect x="88.05" y="444.75" width="2.5" height="2.5" rx="0.35" fill="#df8508"/>
<rect x="90.45" y="445.85" width="2.5" height="2.5" rx="0.35" fill="#df8508"/>
<rect x="92.85" y="444.75" width="2.5" height="2.5" rx="0.35" fill="#df8508"/>
<rect x="95.25" y="445.85" width="2.5" height="2.5" rx="0.35" fill="#df8508"/>
<rect x="97.65" y="444.75" width="2.5" height="2.5" rx="0.35" fill="#df8508"/>
<rect x="100.05" y="445.85" width="2.5" height="2.5" rx="0.35" fill="#df8508"/>
<rect x="102.45" y="444.75" width="2.5" height="2.5" rx="0.35" fill="#df8508"/>
<rect x="104.85" y="445.85" width="2.5" height="2.5" rx="0.35" fill="#df8508"/>
<rect x="107.25" y="444.75" width="2.5" height="2.5" rx="0.35" fill="#df8508"/>
<line x1="54.40" y1="425.40" x2="80.40" y2="425.40" stroke="#000" stroke-width="1.25" />
<line x1="83.80" y1="446.00" x2="109.20" y2="446.00" stroke="#000" stroke-width="1.25" />
<line x1="143.50" y1="375.80" x2="143.50" y2="448.10" stroke="#151515" stroke-width="1.3" />
<line x1="142.90" y1="447.50" x2="212.10" y2="447.50" stroke="#151515" stroke-width="1.3" />
<line x1="140.50" y1="447.50" x2="143.50" y2="447.50" stroke="#151515" stroke-width="0.9" />
<text x="137.50" y="449.65" font-size="6.1" text-anchor="end" fill="#222" font-weight="normal" stroke="#222" stroke-width="0.16" >0</text>
<line x1="140.50" y1="430.30" x2="143.50" y2="430.30" stroke="#151515" stroke-width="0.9" />
<text x="137.50" y="432.45" font-size="6.1" text-anchor="end" fill="#222" font-weight="normal" stroke="#222" stroke-width="0.16" >5</text>
<line x1="140.50" y1="413.10" x2="143.50" y2="413.10" stroke="#151515" stroke-width="0.9" />
<text x="137.50" y="415.25" font-size="6.1" text-anchor="end" fill="#222" font-weight="normal" stroke="#222" stroke-width="0.16" >10</text>
<line x1="140.50" y1="395.90" x2="143.50" y2="395.90" stroke="#151515" stroke-width="0.9" />
<text x="137.50" y="398.05" font-size="6.1" text-anchor="end" fill="#222" font-weight="normal" stroke="#222" stroke-width="0.16" >15</text>
<line x1="140.50" y1="378.70" x2="143.50" y2="378.70" stroke="#151515" stroke-width="0.9" />
<text x="137.50" y="380.85" font-size="6.1" text-anchor="end" fill="#222" font-weight="normal" stroke="#222" stroke-width="0.16" >20</text>
<line x1="163.10" y1="447.50" x2="163.10" y2="450.00" stroke="#151515" stroke-width="0.9" />
<text x="163.10" y="459.00" font-size="6.2" text-anchor="middle" fill="#222" font-weight="normal" stroke="#222" stroke-width="0.2" >D</text>
<line x1="192.90" y1="447.50" x2="192.90" y2="450.00" stroke="#151515" stroke-width="0.9" />
<text x="192.90" y="459.00" font-size="6.2" text-anchor="middle" fill="#222" font-weight="normal" stroke="#222" stroke-width="0.2" >R</text>
<line x1="163.10" y1="379.40" x2="193.70" y2="379.40" stroke="#1a1a1a" stroke-width="1.25" />
<line x1="163.10" y1="378.20" x2="163.10" y2="380.60" stroke="#1a1a1a" stroke-width="0.9" />
<line x1="193.70" y1="378.20" x2="193.70" y2="380.60" stroke="#1a1a1a" stroke-width="0.9" />
<text x="178.40" y="373.70" font-size="5.2" text-anchor="middle" fill="#333" font-weight="normal" stroke="#333" stroke-width="0.08" >0.3535</text>
<circle cx="160.80" cy="419.60" r="1.22" fill="#0e4630"/>
<circle cx="166.00" cy="417.30" r="1.22" fill="#0e4630"/>
<circle cx="155.00" cy="428.80" r="1.22" fill="#0e4630"/>
<circle cx="160.80" cy="427.70" r="1.22" fill="#0e4630"/>
<circle cx="166.00" cy="429.60" r="1.22" fill="#0e4630"/>
<circle cx="171.70" cy="425.80" r="1.22" fill="#0e4630"/>
<circle cx="171.70" cy="429.60" r="1.22" fill="#0e4630"/>
<circle cx="155.00" cy="435.00" r="1.22" fill="#0e4630"/>
<circle cx="160.80" cy="434.00" r="1.22" fill="#0e4630"/>
<circle cx="166.00" cy="432.70" r="1.22" fill="#0e4630"/>
<circle cx="171.70" cy="434.60" r="1.22" fill="#0e4630"/>
<circle cx="155.00" cy="438.50" r="1.22" fill="#0e4630"/>
<circle cx="160.80" cy="438.50" r="1.22" fill="#0e4630"/>
<circle cx="166.00" cy="437.90" r="1.22" fill="#0e4630"/>
<circle cx="171.70" cy="438.50" r="1.22" fill="#0e4630"/>
<circle cx="155.00" cy="441.70" r="1.22" fill="#0e4630"/>
<circle cx="160.80" cy="444.60" r="1.22" fill="#0e4630"/>
<circle cx="166.00" cy="441.70" r="1.22" fill="#0e4630"/>
<circle cx="171.70" cy="444.20" r="1.22" fill="#0e4630"/>
<circle cx="155.00" cy="446.50" r="1.22" fill="#0e4630"/>
<rect x="191.65" y="381.45" width="2.5" height="2.5" rx="0.35" fill="#df8508"/>
<rect x="191.65" y="389.95" width="2.5" height="2.5" rx="0.35" fill="#df8508"/>
<rect x="191.65" y="403.35" width="2.5" height="2.5" rx="0.35" fill="#df8508"/>
<rect x="191.65" y="408.35" width="2.5" height="2.5" rx="0.35" fill="#df8508"/>
<rect x="191.65" y="410.65" width="2.5" height="2.5" rx="0.35" fill="#df8508"/>
<rect x="191.65" y="412.95" width="2.5" height="2.5" rx="0.35" fill="#df8508"/>
<rect x="191.65" y="415.45" width="2.5" height="2.5" rx="0.35" fill="#df8508"/>
<rect x="191.65" y="419.95" width="2.5" height="2.5" rx="0.35" fill="#df8508"/>
<rect x="191.65" y="421.85" width="2.5" height="2.5" rx="0.35" fill="#df8508"/>
<rect x="191.65" y="429.55" width="2.5" height="2.5" rx="0.35" fill="#df8508"/>
<rect x="185.85" y="437.55" width="2.5" height="2.5" rx="0.35" fill="#df8508"/>
<rect x="191.65" y="438.55" width="2.5" height="2.5" rx="0.35" fill="#df8508"/>
<rect x="197.95" y="437.25" width="2.5" height="2.5" rx="0.35" fill="#df8508"/>
<rect x="203.15" y="437.55" width="2.5" height="2.5" rx="0.35" fill="#df8508"/>
<rect x="185.85" y="442.45" width="2.5" height="2.5" rx="0.35" fill="#df8508"/>
<rect x="191.65" y="442.95" width="2.5" height="2.5" rx="0.35" fill="#df8508"/>
<rect x="197.95" y="442.95" width="2.5" height="2.5" rx="0.35" fill="#df8508"/>
<rect x="203.15" y="441.05" width="2.5" height="2.5" rx="0.35" fill="#df8508"/>
<rect x="180.05" y="445.25" width="2.5" height="2.5" rx="0.35" fill="#df8508"/>
<rect x="191.65" y="445.65" width="2.5" height="2.5" rx="0.35" fill="#df8508"/>
<rect x="203.15" y="446.25" width="2.5" height="2.5" rx="0.35" fill="#df8508"/>
<line x1="150.60" y1="436.50" x2="176.20" y2="436.50" stroke="#000" stroke-width="1.25" />
<line x1="180.00" y1="439.20" x2="206.30" y2="439.20" stroke="#000" stroke-width="1.25" />
<line x1="244.80" y1="379.20" x2="244.80" y2="448.10" stroke="#151515" stroke-width="1.3" />
<line x1="244.20" y1="447.50" x2="312.10" y2="447.50" stroke="#151515" stroke-width="1.3" />
<line x1="241.80" y1="447.50" x2="244.80" y2="447.50" stroke="#151515" stroke-width="0.9" />
<text x="238.80" y="449.65" font-size="6.1" text-anchor="end" fill="#222" font-weight="normal" stroke="#222" stroke-width="0.16" >0</text>
<line x1="241.80" y1="434.42" x2="244.80" y2="434.42" stroke="#151515" stroke-width="0.9" />
<text x="238.80" y="436.57" font-size="6.1" text-anchor="end" fill="#222" font-weight="normal" stroke="#222" stroke-width="0.16" >20</text>
<line x1="241.80" y1="421.34" x2="244.80" y2="421.34" stroke="#151515" stroke-width="0.9" />
<text x="238.80" y="423.49" font-size="6.1" text-anchor="end" fill="#222" font-weight="normal" stroke="#222" stroke-width="0.16" >40</text>
<line x1="241.80" y1="408.26" x2="244.80" y2="408.26" stroke="#151515" stroke-width="0.9" />
<text x="238.80" y="410.41" font-size="6.1" text-anchor="end" fill="#222" font-weight="normal" stroke="#222" stroke-width="0.16" >60</text>
<line x1="241.80" y1="395.18" x2="244.80" y2="395.18" stroke="#151515" stroke-width="0.9" />
<text x="238.80" y="397.33" font-size="6.1" text-anchor="end" fill="#222" font-weight="normal" stroke="#222" stroke-width="0.16" >80</text>
<line x1="241.80" y1="382.10" x2="244.80" y2="382.10" stroke="#151515" stroke-width="0.9" />
<text x="238.80" y="384.25" font-size="6.1" text-anchor="end" fill="#222" font-weight="normal" stroke="#222" stroke-width="0.16" >100</text>
<line x1="264.60" y1="447.50" x2="264.60" y2="450.00" stroke="#151515" stroke-width="0.9" />
<text x="264.60" y="459.00" font-size="6.2" text-anchor="middle" fill="#222" font-weight="normal" stroke="#222" stroke-width="0.2" >D</text>
<line x1="294.20" y1="447.50" x2="294.20" y2="450.00" stroke="#151515" stroke-width="0.9" />
<text x="294.20" y="459.00" font-size="6.2" text-anchor="middle" fill="#222" font-weight="normal" stroke="#222" stroke-width="0.2" >R</text>
<line x1="264.30" y1="382.90" x2="295.20" y2="382.90" stroke="#1a1a1a" stroke-width="1.25" />
<line x1="264.30" y1="381.70" x2="264.30" y2="384.10" stroke="#1a1a1a" stroke-width="0.9" />
<line x1="295.20" y1="381.70" x2="295.20" y2="384.10" stroke="#1a1a1a" stroke-width="0.9" />
<text x="279.75" y="377.20" font-size="5.2" text-anchor="middle" fill="#333" font-weight="normal" stroke="#333" stroke-width="0.08" >0.6847</text>
<circle cx="253.10" cy="416.30" r="1.22" fill="#0e4630"/>
<circle cx="258.80" cy="415.40" r="1.22" fill="#0e4630"/>
<circle cx="264.60" cy="417.30" r="1.22" fill="#0e4630"/>
<circle cx="258.80" cy="418.10" r="1.22" fill="#0e4630"/>
<circle cx="276.50" cy="416.30" r="1.22" fill="#0e4630"/>
<circle cx="264.60" cy="421.50" r="1.22" fill="#0e4630"/>
<circle cx="258.80" cy="425.80" r="1.22" fill="#0e4630"/>
<circle cx="264.60" cy="427.30" r="1.22" fill="#0e4630"/>
<circle cx="270.40" cy="428.30" r="1.22" fill="#0e4630"/>
<circle cx="253.10" cy="430.80" r="1.22" fill="#0e4630"/>
<circle cx="258.80" cy="430.80" r="1.22" fill="#0e4630"/>
<circle cx="264.60" cy="430.20" r="1.22" fill="#0e4630"/>
<circle cx="272.70" cy="430.80" r="1.22" fill="#0e4630"/>
<circle cx="276.50" cy="433.10" r="1.22" fill="#0e4630"/>
<circle cx="253.10" cy="434.60" r="1.22" fill="#0e4630"/>
<circle cx="258.80" cy="434.00" r="1.22" fill="#0e4630"/>
<circle cx="264.60" cy="434.00" r="1.22" fill="#0e4630"/>
<circle cx="270.40" cy="436.00" r="1.22" fill="#0e4630"/>
<circle cx="264.60" cy="440.80" r="1.22" fill="#0e4630"/>
<circle cx="267.30" cy="443.70" r="1.22" fill="#0e4630"/>
<circle cx="261.50" cy="445.60" r="1.22" fill="#0e4630"/>
<rect x="292.95" y="400.05" width="2.5" height="2.5" rx="0.35" fill="#df8508"/>
<rect x="290.25" y="412.25" width="2.5" height="2.5" rx="0.35" fill="#df8508"/>
<rect x="296.05" y="412.55" width="2.5" height="2.5" rx="0.35" fill="#df8508"/>
<rect x="287.25" y="415.05" width="2.5" height="2.5" rx="0.35" fill="#df8508"/>
<rect x="292.95" y="416.45" width="2.5" height="2.5" rx="0.35" fill="#df8508"/>
<rect x="290.25" y="419.95" width="2.5" height="2.5" rx="0.35" fill="#df8508"/>
<rect x="296.05" y="419.95" width="2.5" height="2.5" rx="0.35" fill="#df8508"/>
<rect x="299.35" y="429.95" width="2.5" height="2.5" rx="0.35" fill="#df8508"/>
<rect x="292.95" y="432.25" width="2.5" height="2.5" rx="0.35" fill="#df8508"/>
<rect x="287.25" y="433.75" width="2.5" height="2.5" rx="0.35" fill="#df8508"/>
<rect x="281.45" y="435.65" width="2.5" height="2.5" rx="0.35" fill="#df8508"/>
<rect x="292.95" y="436.65" width="2.5" height="2.5" rx="0.35" fill="#df8508"/>
<rect x="299.35" y="435.25" width="2.5" height="2.5" rx="0.35" fill="#df8508"/>
<rect x="305.05" y="435.25" width="2.5" height="2.5" rx="0.35" fill="#df8508"/>
<rect x="287.25" y="440.45" width="2.5" height="2.5" rx="0.35" fill="#df8508"/>
<rect x="292.95" y="441.45" width="2.5" height="2.5" rx="0.35" fill="#df8508"/>
<rect x="299.35" y="441.45" width="2.5" height="2.5" rx="0.35" fill="#df8508"/>
<rect x="281.45" y="441.85" width="2.5" height="2.5" rx="0.35" fill="#df8508"/>
<rect x="305.05" y="442.45" width="2.5" height="2.5" rx="0.35" fill="#df8508"/>
<rect x="305.05" y="438.55" width="2.5" height="2.5" rx="0.35" fill="#df8508"/>
<line x1="251.50" y1="430.80" x2="278.10" y2="430.80" stroke="#000" stroke-width="1.25" />
<line x1="280.40" y1="436.50" x2="307.70" y2="436.50" stroke="#000" stroke-width="1.25" />
<line x1="345.20" y1="376.90" x2="345.20" y2="448.10" stroke="#151515" stroke-width="1.3" />
<line x1="344.60" y1="447.50" x2="411.50" y2="447.50" stroke="#151515" stroke-width="1.3" />
<line x1="342.20" y1="447.50" x2="345.20" y2="447.50" stroke="#151515" stroke-width="0.9" />
<text x="339.20" y="449.65" font-size="6.1" text-anchor="end" fill="#222" font-weight="normal" stroke="#222" stroke-width="0.16" >0</text>
<line x1="342.20" y1="433.92" x2="345.20" y2="433.92" stroke="#151515" stroke-width="0.9" />
<text x="339.20" y="436.07" font-size="6.1" text-anchor="end" fill="#222" font-weight="normal" stroke="#222" stroke-width="0.16" >20</text>
<line x1="342.20" y1="420.34" x2="345.20" y2="420.34" stroke="#151515" stroke-width="0.9" />
<text x="339.20" y="422.49" font-size="6.1" text-anchor="end" fill="#222" font-weight="normal" stroke="#222" stroke-width="0.16" >40</text>
<line x1="342.20" y1="406.76" x2="345.20" y2="406.76" stroke="#151515" stroke-width="0.9" />
<text x="339.20" y="408.91" font-size="6.1" text-anchor="end" fill="#222" font-weight="normal" stroke="#222" stroke-width="0.16" >60</text>
<line x1="342.20" y1="393.18" x2="345.20" y2="393.18" stroke="#151515" stroke-width="0.9" />
<text x="339.20" y="395.33" font-size="6.1" text-anchor="end" fill="#222" font-weight="normal" stroke="#222" stroke-width="0.16" >80</text>
<line x1="342.20" y1="379.60" x2="345.20" y2="379.60" stroke="#151515" stroke-width="0.9" />
<text x="339.20" y="381.75" font-size="6.1" text-anchor="end" fill="#222" font-weight="normal" stroke="#222" stroke-width="0.16" >100</text>
<line x1="364.60" y1="447.50" x2="364.60" y2="450.00" stroke="#151515" stroke-width="0.9" />
<text x="364.60" y="459.00" font-size="6.2" text-anchor="middle" fill="#222" font-weight="normal" stroke="#222" stroke-width="0.2" >D</text>
<line x1="393.50" y1="447.50" x2="393.50" y2="450.00" stroke="#151515" stroke-width="0.9" />
<text x="393.50" y="459.00" font-size="6.2" text-anchor="middle" fill="#222" font-weight="normal" stroke="#222" stroke-width="0.2" >R</text>
<line x1="364.60" y1="383.70" x2="393.50" y2="383.70" stroke="#1a1a1a" stroke-width="1.25" />
<line x1="364.60" y1="382.50" x2="364.60" y2="384.90" stroke="#1a1a1a" stroke-width="0.9" />
<line x1="393.50" y1="382.50" x2="393.50" y2="384.90" stroke="#1a1a1a" stroke-width="0.9" />
<text x="379.05" y="378.00" font-size="5.2" text-anchor="middle" fill="#333" font-weight="normal" stroke="#333" stroke-width="0.08" >0.0002</text>
<circle cx="364.60" cy="403.30" r="1.22" fill="#0e4630"/>
<circle cx="368.50" cy="400.80" r="1.22" fill="#0e4630"/>
<circle cx="360.80" cy="418.70" r="1.22" fill="#0e4630"/>
<circle cx="364.60" cy="420.60" r="1.22" fill="#0e4630"/>
<circle cx="360.80" cy="432.70" r="1.22" fill="#0e4630"/>
<circle cx="364.60" cy="434.00" r="1.22" fill="#0e4630"/>
<circle cx="368.50" cy="431.50" r="1.22" fill="#0e4630"/>
<circle cx="372.30" cy="434.00" r="1.22" fill="#0e4630"/>
<circle cx="356.90" cy="435.40" r="1.22" fill="#0e4630"/>
<circle cx="376.20" cy="436.00" r="1.22" fill="#0e4630"/>
<circle cx="353.10" cy="438.50" r="1.22" fill="#0e4630"/>
<circle cx="356.90" cy="439.20" r="1.22" fill="#0e4630"/>
<circle cx="360.80" cy="437.30" r="1.22" fill="#0e4630"/>
<circle cx="364.60" cy="437.90" r="1.22" fill="#0e4630"/>
<circle cx="368.50" cy="436.90" r="1.22" fill="#0e4630"/>
<circle cx="372.30" cy="439.20" r="1.22" fill="#0e4630"/>
<circle cx="376.20" cy="438.80" r="1.22" fill="#0e4630"/>
<circle cx="356.90" cy="440.80" r="1.22" fill="#0e4630"/>
<circle cx="364.60" cy="441.70" r="1.22" fill="#0e4630"/>
<circle cx="360.80" cy="445.60" r="1.22" fill="#0e4630"/>
<circle cx="366.50" cy="445.60" r="1.22" fill="#0e4630"/>
<rect x="392.25" y="388.55" width="2.5" height="2.5" rx="0.35" fill="#df8508"/>
<rect x="392.25" y="393.75" width="2.5" height="2.5" rx="0.35" fill="#df8508"/>
<rect x="397.95" y="392.95" width="2.5" height="2.5" rx="0.35" fill="#df8508"/>
<rect x="392.25" y="400.05" width="2.5" height="2.5" rx="0.35" fill="#df8508"/>
<rect x="389.15" y="405.85" width="2.5" height="2.5" rx="0.35" fill="#df8508"/>
<rect x="395.45" y="406.45" width="2.5" height="2.5" rx="0.35" fill="#df8508"/>
<rect x="386.45" y="410.65" width="2.5" height="2.5" rx="0.35" fill="#df8508"/>
<rect x="392.25" y="411.05" width="2.5" height="2.5" rx="0.35" fill="#df8508"/>
<rect x="386.45" y="412.95" width="2.5" height="2.5" rx="0.35" fill="#df8508"/>
<rect x="397.95" y="414.15" width="2.5" height="2.5" rx="0.35" fill="#df8508"/>
<rect x="392.25" y="417.95" width="2.5" height="2.5" rx="0.35" fill="#df8508"/>
<rect x="381.05" y="430.25" width="2.5" height="2.5" rx="0.35" fill="#df8508"/>
<rect x="386.45" y="430.25" width="2.5" height="2.5" rx="0.35" fill="#df8508"/>
<rect x="392.25" y="432.75" width="2.5" height="2.5" rx="0.35" fill="#df8508"/>
<rect x="397.95" y="432.75" width="2.5" height="2.5" rx="0.35" fill="#df8508"/>
<rect x="403.75" y="430.85" width="2.5" height="2.5" rx="0.35" fill="#df8508"/>
<rect x="386.45" y="435.65" width="2.5" height="2.5" rx="0.35" fill="#df8508"/>
<rect x="397.95" y="435.25" width="2.5" height="2.5" rx="0.35" fill="#df8508"/>
<rect x="392.25" y="437.25" width="2.5" height="2.5" rx="0.35" fill="#df8508"/>
<rect x="392.25" y="441.05" width="2.5" height="2.5" rx="0.35" fill="#df8508"/>
<rect x="397.95" y="442.95" width="2.5" height="2.5" rx="0.35" fill="#df8508"/>
<rect x="386.45" y="444.35" width="2.5" height="2.5" rx="0.35" fill="#df8508"/>
<line x1="352.50" y1="436.50" x2="377.50" y2="436.50" stroke="#000" stroke-width="1.25" />
<line x1="381.30" y1="425.40" x2="405.80" y2="425.40" stroke="#000" stroke-width="1.25" />
<line x1="446.20" y1="378.30" x2="446.20" y2="448.10" stroke="#151515" stroke-width="1.3" />
<line x1="445.60" y1="447.50" x2="511.20" y2="447.50" stroke="#151515" stroke-width="1.3" />
<line x1="443.20" y1="447.50" x2="446.20" y2="447.50" stroke="#151515" stroke-width="0.9" />
<text x="440.20" y="449.65" font-size="6.1" text-anchor="end" fill="#222" font-weight="normal" stroke="#222" stroke-width="0.16" >0.01</text>
<line x1="443.20" y1="430.77" x2="446.20" y2="430.77" stroke="#151515" stroke-width="0.9" />
<text x="440.20" y="432.92" font-size="6.1" text-anchor="end" fill="#222" font-weight="normal" stroke="#222" stroke-width="0.16" >0.1</text>
<line x1="443.20" y1="414.05" x2="446.20" y2="414.05" stroke="#151515" stroke-width="0.9" />
<text x="440.20" y="416.20" font-size="6.1" text-anchor="end" fill="#222" font-weight="normal" stroke="#222" stroke-width="0.16" >1</text>
<line x1="443.20" y1="397.33" x2="446.20" y2="397.33" stroke="#151515" stroke-width="0.9" />
<text x="440.20" y="399.48" font-size="6.1" text-anchor="end" fill="#222" font-weight="normal" stroke="#222" stroke-width="0.16" >10</text>
<line x1="443.20" y1="380.60" x2="446.20" y2="380.60" stroke="#151515" stroke-width="0.9" />
<text x="440.20" y="382.75" font-size="6.1" text-anchor="end" fill="#222" font-weight="normal" stroke="#222" stroke-width="0.16" >100</text>
<line x1="444.60" y1="442.47" x2="446.20" y2="442.47" stroke="#151515" stroke-width="0.6" />
<line x1="444.60" y1="439.52" x2="446.20" y2="439.52" stroke="#151515" stroke-width="0.6" />
<line x1="444.60" y1="437.43" x2="446.20" y2="437.43" stroke="#151515" stroke-width="0.6" />
<line x1="444.60" y1="435.81" x2="446.20" y2="435.81" stroke="#151515" stroke-width="0.6" />
<line x1="444.60" y1="434.49" x2="446.20" y2="434.49" stroke="#151515" stroke-width="0.6" />
<line x1="444.60" y1="433.37" x2="446.20" y2="433.37" stroke="#151515" stroke-width="0.6" />
<line x1="444.60" y1="432.40" x2="446.20" y2="432.40" stroke="#151515" stroke-width="0.6" />
<line x1="444.60" y1="431.54" x2="446.20" y2="431.54" stroke="#151515" stroke-width="0.6" />
<line x1="444.60" y1="425.74" x2="446.20" y2="425.74" stroke="#151515" stroke-width="0.6" />
<line x1="444.60" y1="422.80" x2="446.20" y2="422.80" stroke="#151515" stroke-width="0.6" />
<line x1="444.60" y1="420.71" x2="446.20" y2="420.71" stroke="#151515" stroke-width="0.6" />
<line x1="444.60" y1="419.08" x2="446.20" y2="419.08" stroke="#151515" stroke-width="0.6" />
<line x1="444.60" y1="417.76" x2="446.20" y2="417.76" stroke="#151515" stroke-width="0.6" />
<line x1="444.60" y1="416.64" x2="446.20" y2="416.64" stroke="#151515" stroke-width="0.6" />
<line x1="444.60" y1="415.67" x2="446.20" y2="415.67" stroke="#151515" stroke-width="0.6" />
<line x1="444.60" y1="414.82" x2="446.20" y2="414.82" stroke="#151515" stroke-width="0.6" />
<line x1="444.60" y1="409.02" x2="446.20" y2="409.02" stroke="#151515" stroke-width="0.6" />
<line x1="444.60" y1="406.07" x2="446.20" y2="406.07" stroke="#151515" stroke-width="0.6" />
<line x1="444.60" y1="403.98" x2="446.20" y2="403.98" stroke="#151515" stroke-width="0.6" />
<line x1="444.60" y1="402.36" x2="446.20" y2="402.36" stroke="#151515" stroke-width="0.6" />
<line x1="444.60" y1="401.04" x2="446.20" y2="401.04" stroke="#151515" stroke-width="0.6" />
<line x1="444.60" y1="399.92" x2="446.20" y2="399.92" stroke="#151515" stroke-width="0.6" />
<line x1="444.60" y1="398.95" x2="446.20" y2="398.95" stroke="#151515" stroke-width="0.6" />
<line x1="444.60" y1="398.09" x2="446.20" y2="398.09" stroke="#151515" stroke-width="0.6" />
<line x1="444.60" y1="392.29" x2="446.20" y2="392.29" stroke="#151515" stroke-width="0.6" />
<line x1="444.60" y1="389.35" x2="446.20" y2="389.35" stroke="#151515" stroke-width="0.6" />
<line x1="444.60" y1="387.26" x2="446.20" y2="387.26" stroke="#151515" stroke-width="0.6" />
<line x1="444.60" y1="385.63" x2="446.20" y2="385.63" stroke="#151515" stroke-width="0.6" />
<line x1="444.60" y1="384.31" x2="446.20" y2="384.31" stroke="#151515" stroke-width="0.6" />
<line x1="444.60" y1="383.19" x2="446.20" y2="383.19" stroke="#151515" stroke-width="0.6" />
<line x1="444.60" y1="382.22" x2="446.20" y2="382.22" stroke="#151515" stroke-width="0.6" />
<line x1="444.60" y1="381.37" x2="446.20" y2="381.37" stroke="#151515" stroke-width="0.6" />
<line x1="465.40" y1="447.50" x2="465.40" y2="450.00" stroke="#151515" stroke-width="0.9" />
<text x="465.40" y="459.00" font-size="6.2" text-anchor="middle" fill="#222" font-weight="normal" stroke="#222" stroke-width="0.2" >D</text>
<line x1="493.80" y1="447.50" x2="493.80" y2="450.00" stroke="#151515" stroke-width="0.9" />
<text x="493.80" y="459.00" font-size="6.2" text-anchor="middle" fill="#222" font-weight="normal" stroke="#222" stroke-width="0.2" >R</text>
<line x1="465.40" y1="380.20" x2="493.80" y2="380.20" stroke="#1a1a1a" stroke-width="1.25" />
<line x1="465.40" y1="379.00" x2="465.40" y2="381.40" stroke="#1a1a1a" stroke-width="0.9" />
<line x1="493.80" y1="379.00" x2="493.80" y2="381.40" stroke="#1a1a1a" stroke-width="0.9" />
<text x="479.60" y="374.50" font-size="5.2" text-anchor="middle" fill="#333" font-weight="normal" stroke="#333" stroke-width="0.08" >0.0391</text>
<circle cx="465.40" cy="386.00" r="1.22" fill="#0e4630"/>
<circle cx="471.20" cy="387.50" r="1.22" fill="#0e4630"/>
<circle cx="454.40" cy="391.70" r="1.22" fill="#0e4630"/>
<circle cx="460.20" cy="390.40" r="1.22" fill="#0e4630"/>
<circle cx="465.40" cy="390.80" r="1.22" fill="#0e4630"/>
<circle cx="476.90" cy="389.80" r="1.22" fill="#0e4630"/>
<circle cx="460.20" cy="393.70" r="1.22" fill="#0e4630"/>
<circle cx="465.40" cy="393.10" r="1.22" fill="#0e4630"/>
<circle cx="471.20" cy="394.20" r="1.22" fill="#0e4630"/>
<circle cx="476.90" cy="392.70" r="1.22" fill="#0e4630"/>
<circle cx="454.40" cy="399.40" r="1.22" fill="#0e4630"/>
<circle cx="460.20" cy="396.50" r="1.22" fill="#0e4630"/>
<circle cx="465.40" cy="397.50" r="1.22" fill="#0e4630"/>
<circle cx="471.20" cy="397.50" r="1.22" fill="#0e4630"/>
<circle cx="460.20" cy="401.30" r="1.22" fill="#0e4630"/>
<circle cx="465.40" cy="400.80" r="1.22" fill="#0e4630"/>
<circle cx="471.20" cy="400.80" r="1.22" fill="#0e4630"/>
<circle cx="460.20" cy="405.20" r="1.22" fill="#0e4630"/>
<circle cx="465.40" cy="405.80" r="1.22" fill="#0e4630"/>
<circle cx="471.20" cy="406.20" r="1.22" fill="#0e4630"/>
<circle cx="460.20" cy="409.00" r="1.22" fill="#0e4630"/>
<circle cx="465.40" cy="408.10" r="1.22" fill="#0e4630"/>
<circle cx="471.20" cy="409.00" r="1.22" fill="#0e4630"/>
<rect x="490.25" y="382.25" width="2.5" height="2.5" rx="0.35" fill="#df8508"/>
<rect x="490.25" y="384.75" width="2.5" height="2.5" rx="0.35" fill="#df8508"/>
<rect x="499.35" y="383.35" width="2.5" height="2.5" rx="0.35" fill="#df8508"/>
<rect x="485.85" y="387.95" width="2.5" height="2.5" rx="0.35" fill="#df8508"/>
<rect x="494.55" y="387.25" width="2.5" height="2.5" rx="0.35" fill="#df8508"/>
<rect x="499.35" y="388.55" width="2.5" height="2.5" rx="0.35" fill="#df8508"/>
<rect x="481.45" y="392.45" width="2.5" height="2.5" rx="0.35" fill="#df8508"/>
<rect x="485.85" y="391.05" width="2.5" height="2.5" rx="0.35" fill="#df8508"/>
<rect x="490.25" y="389.95" width="2.5" height="2.5" rx="0.35" fill="#df8508"/>
<rect x="494.55" y="392.95" width="2.5" height="2.5" rx="0.35" fill="#df8508"/>
<rect x="503.75" y="391.05" width="2.5" height="2.5" rx="0.35" fill="#df8508"/>
<rect x="481.45" y="395.25" width="2.5" height="2.5" rx="0.35" fill="#df8508"/>
<rect x="485.85" y="395.65" width="2.5" height="2.5" rx="0.35" fill="#df8508"/>
<rect x="490.25" y="394.35" width="2.5" height="2.5" rx="0.35" fill="#df8508"/>
<rect x="499.35" y="395.25" width="2.5" height="2.5" rx="0.35" fill="#df8508"/>
<rect x="503.75" y="394.35" width="2.5" height="2.5" rx="0.35" fill="#df8508"/>
<rect x="485.85" y="398.75" width="2.5" height="2.5" rx="0.35" fill="#df8508"/>
<rect x="490.25" y="399.55" width="2.5" height="2.5" rx="0.35" fill="#df8508"/>
<rect x="494.55" y="399.55" width="2.5" height="2.5" rx="0.35" fill="#df8508"/>
<rect x="492.55" y="403.35" width="2.5" height="2.5" rx="0.35" fill="#df8508"/>
<rect x="492.55" y="409.75" width="2.5" height="2.5" rx="0.35" fill="#df8508"/>
<line x1="453.10" y1="397.50" x2="478.10" y2="397.50" stroke="#000" stroke-width="1.25" />
<line x1="481.30" y1="393.70" x2="506.90" y2="393.70" stroke="#000" stroke-width="1.25" />
<text x="6.80" y="485.80" font-size="11.6" text-anchor="start" fill="#000" font-weight="bold"  stroke="#000" stroke-width="0.16">E</text>
<text transform="translate(24.20,569.10) rotate(-90)" font-size="7.0" text-anchor="middle" fill="#222" stroke="#222" stroke-width="0.28" textLength="73.5" lengthAdjust="spacingAndGlyphs">% Ki67<tspan font-size="4.2" dy="-2.4" stroke-width="0.04">+</tspan><tspan dy="2.4"> within T cell subset</tspan></text>
<line x1="48.30" y1="494.80" x2="48.30" y2="643.30" stroke="#151515" stroke-width="1.2" />
<line x1="47.70" y1="642.80" x2="247.10" y2="642.80" stroke="#151515" stroke-width="1.2" />
<line x1="45.20" y1="642.80" x2="48.30" y2="642.80" stroke="#151515" stroke-width="0.9" />
<text x="43.00" y="644.95" font-size="6.1" text-anchor="end" fill="#222" font-weight="normal" stroke="#222" stroke-width="0.16" >0.01</text>
<line x1="45.20" y1="606.70" x2="48.30" y2="606.70" stroke="#151515" stroke-width="0.9" />
<text x="43.00" y="608.85" font-size="6.1" text-anchor="end" fill="#222" font-weight="normal" stroke="#222" stroke-width="0.16" >0.1</text>
<line x1="45.20" y1="570.60" x2="48.30" y2="570.60" stroke="#151515" stroke-width="0.9" />
<text x="43.00" y="572.75" font-size="6.1" text-anchor="end" fill="#222" font-weight="normal" stroke="#222" stroke-width="0.16" >1</text>
<line x1="45.20" y1="534.50" x2="48.30" y2="534.50" stroke="#151515" stroke-width="0.9" />
<text x="43.00" y="536.65" font-size="6.1" text-anchor="end" fill="#222" font-weight="normal" stroke="#222" stroke-width="0.16" >10</text>
<line x1="45.20" y1="498.40" x2="48.30" y2="498.40" stroke="#151515" stroke-width="0.9" />
<text x="43.00" y="500.55" font-size="6.1" text-anchor="end" fill="#222" font-weight="normal" stroke="#222" stroke-width="0.16" >100</text>
<line x1="46.70" y1="631.93" x2="48.30" y2="631.93" stroke="#151515" stroke-width="0.6" />
<line x1="46.70" y1="625.58" x2="48.30" y2="625.58" stroke="#151515" stroke-width="0.6" />
<line x1="46.70" y1="621.07" x2="48.30" y2="621.07" stroke="#151515" stroke-width="0.6" />
<line x1="46.70" y1="617.57" x2="48.30" y2="617.57" stroke="#151515" stroke-width="0.6" />
<line x1="46.70" y1="614.71" x2="48.30" y2="614.71" stroke="#151515" stroke-width="0.6" />
<line x1="46.70" y1="612.29" x2="48.30" y2="612.29" stroke="#151515" stroke-width="0.6" />
<line x1="46.70" y1="610.20" x2="48.30" y2="610.20" stroke="#151515" stroke-width="0.6" />
<line x1="46.70" y1="608.35" x2="48.30" y2="608.35" stroke="#151515" stroke-width="0.6" />
<line x1="46.70" y1="595.83" x2="48.30" y2="595.83" stroke="#151515" stroke-width="0.6" />
<line x1="46.70" y1="589.48" x2="48.30" y2="589.48" stroke="#151515" stroke-width="0.6" />
<line x1="46.70" y1="584.97" x2="48.30" y2="584.97" stroke="#151515" stroke-width="0.6" />
<line x1="46.70" y1="581.47" x2="48.30" y2="581.47" stroke="#151515" stroke-width="0.6" />
<line x1="46.70" y1="578.61" x2="48.30" y2="578.61" stroke="#151515" stroke-width="0.6" />
<line x1="46.70" y1="576.19" x2="48.30" y2="576.19" stroke="#151515" stroke-width="0.6" />
<line x1="46.70" y1="574.10" x2="48.30" y2="574.10" stroke="#151515" stroke-width="0.6" />
<line x1="46.70" y1="572.25" x2="48.30" y2="572.25" stroke="#151515" stroke-width="0.6" />
<line x1="46.70" y1="559.73" x2="48.30" y2="559.73" stroke="#151515" stroke-width="0.6" />
<line x1="46.70" y1="553.38" x2="48.30" y2="553.38" stroke="#151515" stroke-width="0.6" />
<line x1="46.70" y1="548.87" x2="48.30" y2="548.87" stroke="#151515" stroke-width="0.6" />
<line x1="46.70" y1="545.37" x2="48.30" y2="545.37" stroke="#151515" stroke-width="0.6" />
<line x1="46.70" y1="542.51" x2="48.30" y2="542.51" stroke="#151515" stroke-width="0.6" />
<line x1="46.70" y1="540.09" x2="48.30" y2="540.09" stroke="#151515" stroke-width="0.6" />
<line x1="46.70" y1="538.00" x2="48.30" y2="538.00" stroke="#151515" stroke-width="0.6" />
<line x1="46.70" y1="536.15" x2="48.30" y2="536.15" stroke="#151515" stroke-width="0.6" />
<line x1="46.70" y1="523.63" x2="48.30" y2="523.63" stroke="#151515" stroke-width="0.6" />
<line x1="46.70" y1="517.28" x2="48.30" y2="517.28" stroke="#151515" stroke-width="0.6" />
<line x1="46.70" y1="512.77" x2="48.30" y2="512.77" stroke="#151515" stroke-width="0.6" />
<line x1="46.70" y1="509.27" x2="48.30" y2="509.27" stroke="#151515" stroke-width="0.6" />
<line x1="46.70" y1="506.41" x2="48.30" y2="506.41" stroke="#151515" stroke-width="0.6" />
<line x1="46.70" y1="503.99" x2="48.30" y2="503.99" stroke="#151515" stroke-width="0.6" />
<line x1="46.70" y1="501.90" x2="48.30" y2="501.90" stroke="#151515" stroke-width="0.6" />
<line x1="46.70" y1="500.05" x2="48.30" y2="500.05" stroke="#151515" stroke-width="0.6" />
<text x="54.00" y="635.80" font-size="8.5" text-anchor="start" fill="#111" font-weight="normal"  stroke="#111" stroke-width="0.16">CD4</text>
<line x1="280.00" y1="496.30" x2="280.00" y2="643.30" stroke="#151515" stroke-width="1.2" />
<line x1="277.00" y1="642.80" x2="478.20" y2="642.80" stroke="#151515" stroke-width="1.2" />
<line x1="277.00" y1="642.80" x2="280.00" y2="642.80" stroke="#151515" stroke-width="0.9" />
<line x1="277.00" y1="606.70" x2="280.00" y2="606.70" stroke="#151515" stroke-width="0.9" />
<line x1="277.00" y1="570.60" x2="280.00" y2="570.60" stroke="#151515" stroke-width="0.9" />
<line x1="277.00" y1="534.50" x2="280.00" y2="534.50" stroke="#151515" stroke-width="0.9" />
<line x1="277.00" y1="498.40" x2="280.00" y2="498.40" stroke="#151515" stroke-width="0.9" />
<line x1="278.40" y1="631.93" x2="280.00" y2="631.93" stroke="#151515" stroke-width="0.6" />
<line x1="278.40" y1="625.58" x2="280.00" y2="625.58" stroke="#151515" stroke-width="0.6" />
<line x1="278.40" y1="621.07" x2="280.00" y2="621.07" stroke="#151515" stroke-width="0.6" />
<line x1="278.40" y1="617.57" x2="280.00" y2="617.57" stroke="#151515" stroke-width="0.6" />
<line x1="278.40" y1="614.71" x2="280.00" y2="614.71" stroke="#151515" stroke-width="0.6" />
<line x1="278.40" y1="612.29" x2="280.00" y2="612.29" stroke="#151515" stroke-width="0.6" />
<line x1="278.40" y1="610.20" x2="280.00" y2="610.20" stroke="#151515" stroke-width="0.6" />
<line x1="278.40" y1="608.35" x2="280.00" y2="608.35" stroke="#151515" stroke-width="0.6" />
<line x1="278.40" y1="595.83" x2="280.00" y2="595.83" stroke="#151515" stroke-width="0.6" />
<line x1="278.40" y1="589.48" x2="280.00" y2="589.48" stroke="#151515" stroke-width="0.6" />
<line x1="278.40" y1="584.97" x2="280.00" y2="584.97" stroke="#151515" stroke-width="0.6" />
<line x1="278.40" y1="581.47" x2="280.00" y2="581.47" stroke="#151515" stroke-width="0.6" />
<line x1="278.40" y1="578.61" x2="280.00" y2="578.61" stroke="#151515" stroke-width="0.6" />
<line x1="278.40" y1="576.19" x2="280.00" y2="576.19" stroke="#151515" stroke-width="0.6" />
<line x1="278.40" y1="574.10" x2="280.00" y2="574.10" stroke="#151515" stroke-width="0.6" />
<line x1="278.40" y1="572.25" x2="280.00" y2="572.25" stroke="#151515" stroke-width="0.6" />
<line x1="278.40" y1="559.73" x2="280.00" y2="559.73" stroke="#151515" stroke-width="0.6" />
<line x1="278.40" y1="553.38" x2="280.00" y2="553.38" stroke="#151515" stroke-width="0.6" />
<line x1="278.40" y1="548.87" x2="280.00" y2="548.87" stroke="#151515" stroke-width="0.6" />
<line x1="278.40" y1="545.37" x2="280.00" y2="545.37" stroke="#151515" stroke-width="0.6" />
<line x1="278.40" y1="542.51" x2="280.00" y2="542.51" stroke="#151515" stroke-width="0.6" />
<line x1="278.40" y1="540.09" x2="280.00" y2="540.09" stroke="#151515" stroke-width="0.6" />
<line x1="278.40" y1="538.00" x2="280.00" y2="538.00" stroke="#151515" stroke-width="0.6" />
<line x1="278.40" y1="536.15" x2="280.00" y2="536.15" stroke="#151515" stroke-width="0.6" />
<line x1="278.40" y1="523.63" x2="280.00" y2="523.63" stroke="#151515" stroke-width="0.6" />
<line x1="278.40" y1="517.28" x2="280.00" y2="517.28" stroke="#151515" stroke-width="0.6" />
<line x1="278.40" y1="512.77" x2="280.00" y2="512.77" stroke="#151515" stroke-width="0.6" />
<line x1="278.40" y1="509.27" x2="280.00" y2="509.27" stroke="#151515" stroke-width="0.6" />
<line x1="278.40" y1="506.41" x2="280.00" y2="506.41" stroke="#151515" stroke-width="0.6" />
<line x1="278.40" y1="503.99" x2="280.00" y2="503.99" stroke="#151515" stroke-width="0.6" />
<line x1="278.40" y1="501.90" x2="280.00" y2="501.90" stroke="#151515" stroke-width="0.6" />
<line x1="278.40" y1="500.05" x2="280.00" y2="500.05" stroke="#151515" stroke-width="0.6" />
<text x="284.40" y="635.20" font-size="8.5" text-anchor="start" fill="#111" font-weight="normal"  stroke="#111" stroke-width="0.16">CD8</text>
<circle cx="252.3" cy="498.8" r="2.1" fill="#0e4630"/>
<rect x="250.2" y="506.8" width="4.2" height="4.2" fill="#df8508"/>
<text x="258.20" y="501.00" font-size="6.5" text-anchor="start" fill="#222" font-weight="normal" stroke="#222" stroke-width="0.15" >D</text>
<text x="258.20" y="511.10" font-size="6.5" text-anchor="start" fill="#222" font-weight="normal" stroke="#222" stroke-width="0.15" >R</text>
<text x="68.70" y="653.50" font-size="6.1" text-anchor="middle" fill="#111" font-weight="normal" stroke="#111" stroke-width="0.1" >Total</text>
<text x="101.5" y="651.5" font-size="6.3" fill="#111" stroke="#111" stroke-width="0.12">T<tspan font-size="4.1" dy="2.0" stroke-width="0.04">Naive</tspan></text>
<text x="143.1" y="651.5" font-size="6.3" fill="#111" stroke="#111" stroke-width="0.12">T<tspan font-size="4.1" dy="2.0" stroke-width="0.04">CM</tspan></text>
<text x="183.3" y="651.5" font-size="6.3" fill="#111" stroke="#111" stroke-width="0.12">T<tspan font-size="4.1" dy="2.0" stroke-width="0.04">EM</tspan></text>
<text x="220.4" y="651.5" font-size="6.3" fill="#111" stroke="#111" stroke-width="0.12">T<tspan font-size="4.1" dy="2.0" stroke-width="0.04">EMRA</tspan></text>
<text x="300.20" y="653.50" font-size="6.1" text-anchor="middle" fill="#111" font-weight="normal" stroke="#111" stroke-width="0.1" >Total</text>
<text x="332.2" y="651.5" font-size="6.3" fill="#111" stroke="#111" stroke-width="0.12">T<tspan font-size="4.1" dy="2.0" stroke-width="0.04">Naive</tspan></text>
<text x="374.5" y="651.5" font-size="6.3" fill="#111" stroke="#111" stroke-width="0.12">T<tspan font-size="4.1" dy="2.0" stroke-width="0.04">CM</tspan></text>
<text x="414.0" y="651.5" font-size="6.3" fill="#111" stroke="#111" stroke-width="0.12">T<tspan font-size="4.1" dy="2.0" stroke-width="0.04">EM</tspan></text>
<text x="451.5" y="651.5" font-size="6.3" fill="#111" stroke="#111" stroke-width="0.12">T<tspan font-size="4.1" dy="2.0" stroke-width="0.04">EMRA</tspan></text>
<line x1="55.20" y1="498.70" x2="72.70" y2="498.70" stroke="#1a1a1a" stroke-width="1.25" />
<line x1="55.20" y1="497.50" x2="55.20" y2="499.90" stroke="#1a1a1a" stroke-width="0.9" />
<line x1="72.70" y1="497.50" x2="72.70" y2="499.90" stroke="#1a1a1a" stroke-width="0.9" />
<text x="63.95" y="493.00" font-size="5.2" text-anchor="middle" fill="#333" font-weight="normal" stroke="#333" stroke-width="0.08" >&lt;0.0001</text>
<rect x="73.75" y="507.15" width="2.5" height="2.5" rx="0.35" fill="#df8508"/>
<rect x="73.75" y="516.35" width="2.5" height="2.5" rx="0.35" fill="#df8508"/>
<rect x="72.25" y="522.55" width="2.5" height="2.5" rx="0.35" fill="#df8508"/>
<rect x="76.85" y="525.25" width="2.5" height="2.5" rx="0.35" fill="#df8508"/>
<rect x="70.65" y="528.65" width="2.5" height="2.5" rx="0.35" fill="#df8508"/>
<rect x="73.75" y="528.35" width="2.5" height="2.5" rx="0.35" fill="#df8508"/>
<rect x="76.35" y="529.15" width="2.5" height="2.5" rx="0.35" fill="#df8508"/>
<rect x="69.55" y="532.65" width="2.5" height="2.5" rx="0.35" fill="#df8508"/>
<rect x="73.75" y="532.65" width="2.5" height="2.5" rx="0.35" fill="#df8508"/>
<rect x="78.35" y="532.65" width="2.5" height="2.5" rx="0.35" fill="#df8508"/>
<rect x="69.15" y="536.05" width="2.5" height="2.5" rx="0.35" fill="#df8508"/>
<rect x="72.25" y="536.85" width="2.5" height="2.5" rx="0.35" fill="#df8508"/>
<rect x="75.25" y="536.85" width="2.5" height="2.5" rx="0.35" fill="#df8508"/>
<rect x="78.35" y="537.55" width="2.5" height="2.5" rx="0.35" fill="#df8508"/>
<rect x="72.25" y="539.45" width="2.5" height="2.5" rx="0.35" fill="#df8508"/>
<rect x="75.25" y="541.95" width="2.5" height="2.5" rx="0.35" fill="#df8508"/>
<rect x="72.25" y="544.95" width="2.5" height="2.5" rx="0.35" fill="#df8508"/>
<rect x="75.25" y="546.85" width="2.5" height="2.5" rx="0.35" fill="#df8508"/>
<rect x="72.25" y="549.15" width="2.5" height="2.5" rx="0.35" fill="#df8508"/>
<circle cx="61.60" cy="552.80" r="1.22" fill="#0e4630"/>
<circle cx="57.00" cy="554.90" r="1.22" fill="#0e4630"/>
<circle cx="60.10" cy="555.80" r="1.22" fill="#0e4630"/>
<circle cx="64.20" cy="556.20" r="1.22" fill="#0e4630"/>
<circle cx="57.00" cy="558.00" r="1.22" fill="#0e4630"/>
<circle cx="61.60" cy="558.90" r="1.22" fill="#0e4630"/>
<circle cx="65.80" cy="558.00" r="1.22" fill="#0e4630"/>
<circle cx="58.50" cy="561.50" r="1.22" fill="#0e4630"/>
<circle cx="63.20" cy="562.00" r="1.22" fill="#0e4630"/>
<circle cx="60.10" cy="563.80" r="1.22" fill="#0e4630"/>
<circle cx="57.00" cy="566.20" r="1.22" fill="#0e4630"/>
<circle cx="64.70" cy="565.10" r="1.22" fill="#0e4630"/>
<circle cx="58.50" cy="568.50" r="1.22" fill="#0e4630"/>
<circle cx="61.60" cy="569.20" r="1.22" fill="#0e4630"/>
<circle cx="66.20" cy="568.50" r="1.22" fill="#0e4630"/>
<circle cx="63.20" cy="569.70" r="1.22" fill="#0e4630"/>
<line x1="68.80" y1="533.50" x2="81.20" y2="533.50" stroke="#000" stroke-width="1.25" />
<line x1="55.80" y1="562.00" x2="68.10" y2="562.00" stroke="#000" stroke-width="1.25" />
<line x1="97.30" y1="498.70" x2="114.50" y2="498.70" stroke="#1a1a1a" stroke-width="1.25" />
<line x1="97.30" y1="497.50" x2="97.30" y2="499.90" stroke="#1a1a1a" stroke-width="0.9" />
<line x1="114.50" y1="497.50" x2="114.50" y2="499.90" stroke="#1a1a1a" stroke-width="0.9" />
<text x="105.90" y="493.00" font-size="5.2" text-anchor="middle" fill="#333" font-weight="normal" stroke="#333" stroke-width="0.08" >&lt;0.0001</text>
<rect x="113.75" y="503.45" width="2.5" height="2.5" rx="0.35" fill="#df8508"/>
<rect x="113.75" y="507.15" width="2.5" height="2.5" rx="0.35" fill="#df8508"/>
<rect x="112.25" y="513.25" width="2.5" height="2.5" rx="0.35" fill="#df8508"/>
<rect x="117.25" y="516.05" width="2.5" height="2.5" rx="0.35" fill="#df8508"/>
<rect x="112.25" y="520.35" width="2.5" height="2.5" rx="0.35" fill="#df8508"/>
<rect x="115.25" y="518.35" width="2.5" height="2.5" rx="0.35" fill="#df8508"/>
<rect x="112.25" y="524.05" width="2.5" height="2.5" rx="0.35" fill="#df8508"/>
<rect x="115.25" y="525.25" width="2.5" height="2.5" rx="0.35" fill="#df8508"/>
<rect x="113.75" y="529.45" width="2.5" height="2.5" rx="0.35" fill="#df8508"/>
<rect x="113.75" y="536.85" width="2.5" height="2.5" rx="0.35" fill="#df8508"/>
<rect x="110.65" y="549.15" width="2.5" height="2.5" rx="0.35" fill="#df8508"/>
<rect x="113.75" y="549.95" width="2.5" height="2.5" rx="0.35" fill="#df8508"/>
<rect x="117.25" y="546.85" width="2.5" height="2.5" rx="0.35" fill="#df8508"/>
<rect x="115.25" y="554.95" width="2.5" height="2.5" rx="0.35" fill="#df8508"/>
<rect x="110.65" y="557.65" width="2.5" height="2.5" rx="0.35" fill="#df8508"/>
<rect x="112.25" y="560.25" width="2.5" height="2.5" rx="0.35" fill="#df8508"/>
<rect x="115.25" y="563.85" width="2.5" height="2.5" rx="0.35" fill="#df8508"/>
<rect x="110.25" y="565.95" width="2.5" height="2.5" rx="0.35" fill="#df8508"/>
<rect x="113.75" y="567.55" width="2.5" height="2.5" rx="0.35" fill="#df8508"/>
<rect x="117.25" y="567.55" width="2.5" height="2.5" rx="0.35" fill="#df8508"/>
<circle cx="100.10" cy="570.00" r="1.22" fill="#0e4630"/>
<circle cx="103.20" cy="570.00" r="1.22" fill="#0e4630"/>
<circle cx="98.10" cy="572.80" r="1.22" fill="#0e4630"/>
<circle cx="105.00" cy="572.30" r="1.22" fill="#0e4630"/>
<circle cx="101.60" cy="573.80" r="1.22" fill="#0e4630"/>
<circle cx="101.60" cy="578.90" r="1.22" fill="#0e4630"/>
<circle cx="98.10" cy="580.50" r="1.22" fill="#0e4630"/>
<circle cx="106.20" cy="582.00" r="1.22" fill="#0e4630"/>
<circle cx="100.10" cy="583.10" r="1.22" fill="#0e4630"/>
<circle cx="103.20" cy="583.50" r="1.22" fill="#0e4630"/>
<circle cx="101.60" cy="585.70" r="1.22" fill="#0e4630"/>
<circle cx="98.10" cy="586.60" r="1.22" fill="#0e4630"/>
<circle cx="105.00" cy="587.70" r="1.22" fill="#0e4630"/>
<circle cx="103.20" cy="589.20" r="1.22" fill="#0e4630"/>
<circle cx="100.10" cy="591.20" r="1.22" fill="#0e4630"/>
<circle cx="97.30" cy="592.80" r="1.22" fill="#0e4630"/>
<circle cx="99.20" cy="593.80" r="1.22" fill="#0e4630"/>
<circle cx="106.20" cy="593.80" r="1.22" fill="#0e4630"/>
<circle cx="103.20" cy="596.50" r="1.22" fill="#0e4630"/>
<circle cx="100.10" cy="601.50" r="1.22" fill="#0e4630"/>
<circle cx="103.20" cy="601.50" r="1.22" fill="#0e4630"/>
<line x1="109.30" y1="546.50" x2="120.70" y2="546.50" stroke="#000" stroke-width="1.25" />
<line x1="95.80" y1="585.10" x2="107.80" y2="585.10" stroke="#000" stroke-width="1.25" />
<line x1="136.50" y1="498.70" x2="154.20" y2="498.70" stroke="#1a1a1a" stroke-width="1.25" />
<line x1="136.50" y1="497.50" x2="136.50" y2="499.90" stroke="#1a1a1a" stroke-width="0.9" />
<line x1="154.20" y1="497.50" x2="154.20" y2="499.90" stroke="#1a1a1a" stroke-width="0.9" />
<text x="145.35" y="493.00" font-size="5.2" text-anchor="middle" fill="#333" font-weight="normal" stroke="#333" stroke-width="0.08" >&lt;0.0001</text>
<rect x="151.75" y="512.65" width="2.5" height="2.5" rx="0.35" fill="#df8508"/>
<rect x="155.25" y="510.65" width="2.5" height="2.5" rx="0.35" fill="#df8508"/>
<rect x="153.75" y="517.95" width="2.5" height="2.5" rx="0.35" fill="#df8508"/>
<rect x="151.75" y="522.95" width="2.5" height="2.5" rx="0.35" fill="#df8508"/>
<rect x="155.25" y="521.45" width="2.5" height="2.5" rx="0.35" fill="#df8508"/>
<rect x="149.55" y="526.55" width="2.5" height="2.5" rx="0.35" fill="#df8508"/>
<rect x="153.75" y="525.55" width="2.5" height="2.5" rx="0.35" fill="#df8508"/>
<rect x="157.95" y="525.55" width="2.5" height="2.5" rx="0.35" fill="#df8508"/>
<rect x="150.65" y="529.15" width="2.5" height="2.5" rx="0.35" fill="#df8508"/>
<rect x="156.85" y="529.15" width="2.5" height="2.5" rx="0.35" fill="#df8508"/>
<rect x="149.15" y="532.65" width="2.5" height="2.5" rx="0.35" fill="#df8508"/>
<rect x="152.25" y="532.65" width="2.5" height="2.5" rx="0.35" fill="#df8508"/>
<rect x="155.25" y="532.95" width="2.5" height="2.5" rx="0.35" fill="#df8508"/>
<rect x="158.35" y="533.25" width="2.5" height="2.5" rx="0.35" fill="#df8508"/>
<rect x="150.65" y="535.75" width="2.5" height="2.5" rx="0.35" fill="#df8508"/>
<rect x="153.75" y="535.25" width="2.5" height="2.5" rx="0.35" fill="#df8508"/>
<rect x="156.85" y="535.25" width="2.5" height="2.5" rx="0.35" fill="#df8508"/>
<rect x="153.75" y="538.85" width="2.5" height="2.5" rx="0.35" fill="#df8508"/>
<rect x="155.25" y="545.55" width="2.5" height="2.5" rx="0.35" fill="#df8508"/>
<rect x="151.75" y="548.05" width="2.5" height="2.5" rx="0.35" fill="#df8508"/>
<circle cx="141.60" cy="545.80" r="1.22" fill="#0e4630"/>
<circle cx="141.60" cy="552.00" r="1.22" fill="#0e4630"/>
<circle cx="138.10" cy="553.80" r="1.22" fill="#0e4630"/>
<circle cx="145.00" cy="553.80" r="1.22" fill="#0e4630"/>
<circle cx="137.30" cy="556.20" r="1.22" fill="#0e4630"/>
<circle cx="146.50" cy="556.90" r="1.22" fill="#0e4630"/>
<circle cx="139.60" cy="558.50" r="1.22" fill="#0e4630"/>
<circle cx="143.50" cy="558.50" r="1.22" fill="#0e4630"/>
<circle cx="138.50" cy="560.80" r="1.22" fill="#0e4630"/>
<circle cx="141.60" cy="560.00" r="1.22" fill="#0e4630"/>
<circle cx="144.70" cy="560.30" r="1.22" fill="#0e4630"/>
<circle cx="138.10" cy="563.40" r="1.22" fill="#0e4630"/>
<circle cx="141.60" cy="563.80" r="1.22" fill="#0e4630"/>
<circle cx="144.70" cy="563.10" r="1.22" fill="#0e4630"/>
<line x1="148.80" y1="530.40" x2="160.70" y2="530.40" stroke="#000" stroke-width="1.25" />
<line x1="135.50" y1="557.40" x2="147.80" y2="557.40" stroke="#000" stroke-width="1.25" />
<line x1="175.80" y1="498.70" x2="193.50" y2="498.70" stroke="#1a1a1a" stroke-width="1.25" />
<line x1="175.80" y1="497.50" x2="175.80" y2="499.90" stroke="#1a1a1a" stroke-width="0.9" />
<line x1="193.50" y1="497.50" x2="193.50" y2="499.90" stroke="#1a1a1a" stroke-width="0.9" />
<text x="184.65" y="493.00" font-size="5.2" text-anchor="middle" fill="#333" font-weight="normal" stroke="#333" stroke-width="0.08" >&lt;0.0001</text>
<rect x="193.75" y="505.25" width="2.5" height="2.5" rx="0.35" fill="#df8508"/>
<rect x="191.45" y="515.25" width="2.5" height="2.5" rx="0.35" fill="#df8508"/>
<rect x="195.25" y="516.35" width="2.5" height="2.5" rx="0.35" fill="#df8508"/>
<rect x="189.15" y="521.95" width="2.5" height="2.5" rx="0.35" fill="#df8508"/>
<rect x="192.25" y="522.95" width="2.5" height="2.5" rx="0.35" fill="#df8508"/>
<rect x="195.25" y="522.95" width="2.5" height="2.5" rx="0.35" fill="#df8508"/>
<rect x="198.35" y="520.65" width="2.5" height="2.5" rx="0.35" fill="#df8508"/>
<rect x="191.45" y="526.55" width="2.5" height="2.5" rx="0.35" fill="#df8508"/>
<rect x="196.85" y="526.05" width="2.5" height="2.5" rx="0.35" fill="#df8508"/>
<rect x="189.15" y="530.25" width="2.5" height="2.5" rx="0.35" fill="#df8508"/>
<rect x="193.75" y="529.55" width="2.5" height="2.5" rx="0.35" fill="#df8508"/>
<rect x="198.35" y="529.95" width="2.5" height="2.5" rx="0.35" fill="#df8508"/>
<rect x="191.45" y="533.25" width="2.5" height="2.5" rx="0.35" fill="#df8508"/>
<rect x="195.25" y="532.95" width="2.5" height="2.5" rx="0.35" fill="#df8508"/>
<rect x="189.95" y="536.85" width="2.5" height="2.5" rx="0.35" fill="#df8508"/>
<rect x="193.75" y="536.85" width="2.5" height="2.5" rx="0.35" fill="#df8508"/>
<rect x="196.85" y="538.35" width="2.5" height="2.5" rx="0.35" fill="#df8508"/>
<rect x="189.95" y="540.95" width="2.5" height="2.5" rx="0.35" fill="#df8508"/>
<rect x="193.75" y="541.95" width="2.5" height="2.5" rx="0.35" fill="#df8508"/>
<rect x="191.45" y="544.55" width="2.5" height="2.5" rx="0.35" fill="#df8508"/>
<rect x="195.25" y="545.55" width="2.5" height="2.5" rx="0.35" fill="#df8508"/>
<rect x="193.75" y="550.65" width="2.5" height="2.5" rx="0.35" fill="#df8508"/>
<circle cx="178.10" cy="538.80" r="1.22" fill="#0e4630"/>
<circle cx="181.60" cy="539.60" r="1.22" fill="#0e4630"/>
<circle cx="185.30" cy="538.80" r="1.22" fill="#0e4630"/>
<circle cx="178.10" cy="543.80" r="1.22" fill="#0e4630"/>
<circle cx="181.60" cy="543.20" r="1.22" fill="#0e4630"/>
<circle cx="185.30" cy="545.00" r="1.22" fill="#0e4630"/>
<circle cx="177.30" cy="546.80" r="1.22" fill="#0e4630"/>
<circle cx="180.70" cy="547.80" r="1.22" fill="#0e4630"/>
<circle cx="185.30" cy="548.80" r="1.22" fill="#0e4630"/>
<circle cx="179.20" cy="551.50" r="1.22" fill="#0e4630"/>
<circle cx="183.20" cy="552.40" r="1.22" fill="#0e4630"/>
<circle cx="177.30" cy="557.20" r="1.22" fill="#0e4630"/>
<circle cx="179.20" cy="558.80" r="1.22" fill="#0e4630"/>
<circle cx="181.60" cy="560.80" r="1.22" fill="#0e4630"/>
<circle cx="184.20" cy="559.70" r="1.22" fill="#0e4630"/>
<circle cx="186.20" cy="558.50" r="1.22" fill="#0e4630"/>
<line x1="189.30" y1="530.80" x2="200.70" y2="530.80" stroke="#000" stroke-width="1.25" />
<line x1="175.50" y1="550.40" x2="187.30" y2="550.40" stroke="#000" stroke-width="1.25" />
<line x1="217.20" y1="498.70" x2="235.10" y2="498.70" stroke="#1a1a1a" stroke-width="1.25" />
<line x1="217.20" y1="497.50" x2="217.20" y2="499.90" stroke="#1a1a1a" stroke-width="0.9" />
<line x1="235.10" y1="497.50" x2="235.10" y2="499.90" stroke="#1a1a1a" stroke-width="0.9" />
<text x="226.15" y="493.00" font-size="5.2" text-anchor="middle" fill="#333" font-weight="normal" stroke="#333" stroke-width="0.08" >&lt;0.0001</text>
<rect x="233.35" y="510.25" width="2.5" height="2.5" rx="0.35" fill="#df8508"/>
<rect x="230.25" y="521.85" width="2.5" height="2.5" rx="0.35" fill="#df8508"/>
<rect x="233.85" y="522.55" width="2.5" height="2.5" rx="0.35" fill="#df8508"/>
<rect x="236.95" y="519.95" width="2.5" height="2.5" rx="0.35" fill="#df8508"/>
<rect x="229.25" y="527.25" width="2.5" height="2.5" rx="0.35" fill="#df8508"/>
<rect x="231.85" y="528.75" width="2.5" height="2.5" rx="0.35" fill="#df8508"/>
<rect x="234.95" y="527.95" width="2.5" height="2.5" rx="0.35" fill="#df8508"/>
<rect x="237.95" y="525.65" width="2.5" height="2.5" rx="0.35" fill="#df8508"/>
<rect x="231.85" y="532.95" width="2.5" height="2.5" rx="0.35" fill="#df8508"/>
<rect x="235.35" y="534.45" width="2.5" height="2.5" rx="0.35" fill="#df8508"/>
<rect x="228.75" y="537.95" width="2.5" height="2.5" rx="0.35" fill="#df8508"/>
<rect x="232.25" y="538.75" width="2.5" height="2.5" rx="0.35" fill="#df8508"/>
<rect x="236.95" y="540.25" width="2.5" height="2.5" rx="0.35" fill="#df8508"/>
<rect x="230.25" y="541.85" width="2.5" height="2.5" rx="0.35" fill="#df8508"/>
<rect x="233.85" y="543.65" width="2.5" height="2.5" rx="0.35" fill="#df8508"/>
<rect x="233.35" y="551.05" width="2.5" height="2.5" rx="0.35" fill="#df8508"/>
<rect x="231.85" y="554.95" width="2.5" height="2.5" rx="0.35" fill="#df8508"/>
<rect x="235.35" y="556.45" width="2.5" height="2.5" rx="0.35" fill="#df8508"/>
<rect x="236.95" y="555.65" width="2.5" height="2.5" rx="0.35" fill="#df8508"/>
<rect x="231.85" y="559.55" width="2.5" height="2.5" rx="0.35" fill="#df8508"/>
<circle cx="221.50" cy="526.20" r="1.22" fill="#0e4630"/>
<circle cx="219.70" cy="539.20" r="1.22" fill="#0e4630"/>
<circle cx="223.40" cy="540.00" r="1.22" fill="#0e4630"/>
<circle cx="221.50" cy="543.80" r="1.22" fill="#0e4630"/>
<circle cx="218.20" cy="552.60" r="1.22" fill="#0e4630"/>
<circle cx="221.50" cy="552.00" r="1.22" fill="#0e4630"/>
<circle cx="224.90" cy="553.80" r="1.22" fill="#0e4630"/>
<circle cx="220.00" cy="556.20" r="1.22" fill="#0e4630"/>
<circle cx="221.50" cy="555.40" r="1.22" fill="#0e4630"/>
<circle cx="223.10" cy="560.00" r="1.22" fill="#0e4630"/>
<circle cx="216.90" cy="565.80" r="1.22" fill="#0e4630"/>
<circle cx="220.00" cy="567.70" r="1.22" fill="#0e4630"/>
<circle cx="223.10" cy="567.40" r="1.22" fill="#0e4630"/>
<circle cx="216.90" cy="571.10" r="1.22" fill="#0e4630"/>
<circle cx="220.00" cy="571.10" r="1.22" fill="#0e4630"/>
<circle cx="223.10" cy="573.10" r="1.22" fill="#0e4630"/>
<circle cx="226.20" cy="571.10" r="1.22" fill="#0e4630"/>
<circle cx="223.10" cy="575.70" r="1.22" fill="#0e4630"/>
<circle cx="219.70" cy="576.90" r="1.22" fill="#0e4630"/>
<circle cx="221.50" cy="580.80" r="1.22" fill="#0e4630"/>
<circle cx="221.50" cy="593.80" r="1.22" fill="#0e4630"/>
<line x1="228.90" y1="538.50" x2="240.80" y2="538.50" stroke="#000" stroke-width="1.25" />
<line x1="215.40" y1="565.40" x2="227.40" y2="565.40" stroke="#000" stroke-width="1.25" />
<line x1="290.20" y1="498.70" x2="308.50" y2="498.70" stroke="#1a1a1a" stroke-width="1.25" />
<line x1="290.20" y1="497.50" x2="290.20" y2="499.90" stroke="#1a1a1a" stroke-width="0.9" />
<line x1="308.50" y1="497.50" x2="308.50" y2="499.90" stroke="#1a1a1a" stroke-width="0.9" />
<text x="299.35" y="493.00" font-size="5.2" text-anchor="middle" fill="#333" font-weight="normal" stroke="#333" stroke-width="0.08" >&lt;0.0001</text>
<rect x="305.25" y="512.95" width="2.5" height="2.5" rx="0.35" fill="#df8508"/>
<rect x="305.25" y="518.15" width="2.5" height="2.5" rx="0.35" fill="#df8508"/>
<rect x="305.25" y="524.95" width="2.5" height="2.5" rx="0.35" fill="#df8508"/>
<rect x="301.05" y="530.65" width="2.5" height="2.5" rx="0.35" fill="#df8508"/>
<rect x="305.25" y="531.65" width="2.5" height="2.5" rx="0.35" fill="#df8508"/>
<rect x="309.55" y="531.65" width="2.5" height="2.5" rx="0.35" fill="#df8508"/>
<rect x="303.35" y="533.55" width="2.5" height="2.5" rx="0.35" fill="#df8508"/>
<rect x="307.25" y="534.15" width="2.5" height="2.5" rx="0.35" fill="#df8508"/>
<rect x="301.85" y="539.35" width="2.5" height="2.5" rx="0.35" fill="#df8508"/>
<rect x="305.25" y="539.95" width="2.5" height="2.5" rx="0.35" fill="#df8508"/>
<rect x="308.75" y="539.35" width="2.5" height="2.5" rx="0.35" fill="#df8508"/>
<rect x="301.05" y="544.55" width="2.5" height="2.5" rx="0.35" fill="#df8508"/>
<rect x="303.75" y="546.45" width="2.5" height="2.5" rx="0.35" fill="#df8508"/>
<rect x="308.15" y="545.65" width="2.5" height="2.5" rx="0.35" fill="#df8508"/>
<rect x="302.95" y="548.95" width="2.5" height="2.5" rx="0.35" fill="#df8508"/>
<rect x="306.25" y="550.85" width="2.5" height="2.5" rx="0.35" fill="#df8508"/>
<rect x="303.75" y="555.65" width="2.5" height="2.5" rx="0.35" fill="#df8508"/>
<rect x="307.25" y="556.65" width="2.5" height="2.5" rx="0.35" fill="#df8508"/>
<rect x="305.25" y="564.95" width="2.5" height="2.5" rx="0.35" fill="#df8508"/>
<circle cx="293.50" cy="553.50" r="1.22" fill="#0e4630"/>
<circle cx="288.80" cy="556.90" r="1.22" fill="#0e4630"/>
<circle cx="295.00" cy="556.90" r="1.22" fill="#0e4630"/>
<circle cx="291.50" cy="560.20" r="1.22" fill="#0e4630"/>
<circle cx="296.90" cy="561.20" r="1.22" fill="#0e4630"/>
<circle cx="288.80" cy="564.60" r="1.22" fill="#0e4630"/>
<circle cx="293.50" cy="564.00" r="1.22" fill="#0e4630"/>
<circle cx="297.90" cy="565.00" r="1.22" fill="#0e4630"/>
<circle cx="291.50" cy="566.90" r="1.22" fill="#0e4630"/>
<circle cx="296.00" cy="566.50" r="1.22" fill="#0e4630"/>
<circle cx="288.30" cy="570.40" r="1.22" fill="#0e4630"/>
<circle cx="293.50" cy="570.80" r="1.22" fill="#0e4630"/>
<circle cx="297.90" cy="571.20" r="1.22" fill="#0e4630"/>
<circle cx="290.20" cy="573.70" r="1.22" fill="#0e4630"/>
<circle cx="296.00" cy="574.20" r="1.22" fill="#0e4630"/>
<circle cx="292.70" cy="576.50" r="1.22" fill="#0e4630"/>
<circle cx="297.90" cy="577.50" r="1.22" fill="#0e4630"/>
<circle cx="289.60" cy="580.00" r="1.22" fill="#0e4630"/>
<circle cx="293.50" cy="581.30" r="1.22" fill="#0e4630"/>
<circle cx="296.90" cy="578.50" r="1.22" fill="#0e4630"/>
<circle cx="293.50" cy="589.60" r="1.22" fill="#0e4630"/>
<line x1="300.80" y1="546.00" x2="312.70" y2="546.00" stroke="#000" stroke-width="1.25" />
<line x1="287.30" y1="569.40" x2="299.20" y2="569.40" stroke="#000" stroke-width="1.25" />
<line x1="330.00" y1="498.70" x2="347.90" y2="498.70" stroke="#1a1a1a" stroke-width="1.25" />
<line x1="330.00" y1="497.50" x2="330.00" y2="499.90" stroke="#1a1a1a" stroke-width="0.9" />
<line x1="347.90" y1="497.50" x2="347.90" y2="499.90" stroke="#1a1a1a" stroke-width="0.9" />
<text x="338.95" y="493.00" font-size="5.2" text-anchor="middle" fill="#333" font-weight="normal" stroke="#333" stroke-width="0.08" >&lt;0.0001</text>
<rect x="345.25" y="507.25" width="2.5" height="2.5" rx="0.35" fill="#df8508"/>
<rect x="345.25" y="517.25" width="2.5" height="2.5" rx="0.35" fill="#df8508"/>
<rect x="343.35" y="526.85" width="2.5" height="2.5" rx="0.35" fill="#df8508"/>
<rect x="346.65" y="525.85" width="2.5" height="2.5" rx="0.35" fill="#df8508"/>
<rect x="345.25" y="537.45" width="2.5" height="2.5" rx="0.35" fill="#df8508"/>
<rect x="345.25" y="542.25" width="2.5" height="2.5" rx="0.35" fill="#df8508"/>
<rect x="341.85" y="547.05" width="2.5" height="2.5" rx="0.35" fill="#df8508"/>
<rect x="345.25" y="546.45" width="2.5" height="2.5" rx="0.35" fill="#df8508"/>
<rect x="348.55" y="547.05" width="2.5" height="2.5" rx="0.35" fill="#df8508"/>
<rect x="341.85" y="551.85" width="2.5" height="2.5" rx="0.35" fill="#df8508"/>
<rect x="345.25" y="552.75" width="2.5" height="2.5" rx="0.35" fill="#df8508"/>
<rect x="348.55" y="552.75" width="2.5" height="2.5" rx="0.35" fill="#df8508"/>
<rect x="343.35" y="556.65" width="2.5" height="2.5" rx="0.35" fill="#df8508"/>
<rect x="347.25" y="556.65" width="2.5" height="2.5" rx="0.35" fill="#df8508"/>
<rect x="341.85" y="560.45" width="2.5" height="2.5" rx="0.35" fill="#df8508"/>
<rect x="345.25" y="560.45" width="2.5" height="2.5" rx="0.35" fill="#df8508"/>
<rect x="348.55" y="560.45" width="2.5" height="2.5" rx="0.35" fill="#df8508"/>
<rect x="343.75" y="564.35" width="2.5" height="2.5" rx="0.35" fill="#df8508"/>
<rect x="346.65" y="563.75" width="2.5" height="2.5" rx="0.35" fill="#df8508"/>
<rect x="343.35" y="569.55" width="2.5" height="2.5" rx="0.35" fill="#df8508"/>
<rect x="347.25" y="568.75" width="2.5" height="2.5" rx="0.35" fill="#df8508"/>
<circle cx="333.10" cy="561.20" r="1.22" fill="#0e4630"/>
<circle cx="330.00" cy="571.20" r="1.22" fill="#0e4630"/>
<circle cx="335.40" cy="571.20" r="1.22" fill="#0e4630"/>
<circle cx="332.50" cy="573.70" r="1.22" fill="#0e4630"/>
<circle cx="336.30" cy="574.60" r="1.22" fill="#0e4630"/>
<circle cx="328.70" cy="577.50" r="1.22" fill="#0e4630"/>
<circle cx="333.50" cy="576.50" r="1.22" fill="#0e4630"/>
<circle cx="330.00" cy="581.30" r="1.22" fill="#0e4630"/>
<circle cx="336.30" cy="580.80" r="1.22" fill="#0e4630"/>
<circle cx="332.50" cy="583.30" r="1.22" fill="#0e4630"/>
<circle cx="328.70" cy="587.10" r="1.22" fill="#0e4630"/>
<circle cx="335.40" cy="587.70" r="1.22" fill="#0e4630"/>
<circle cx="331.20" cy="590.40" r="1.22" fill="#0e4630"/>
<circle cx="333.10" cy="591.90" r="1.22" fill="#0e4630"/>
<circle cx="328.70" cy="593.80" r="1.22" fill="#0e4630"/>
<circle cx="336.30" cy="595.40" r="1.22" fill="#0e4630"/>
<circle cx="331.90" cy="597.30" r="1.22" fill="#0e4630"/>
<circle cx="331.20" cy="601.50" r="1.22" fill="#0e4630"/>
<circle cx="335.00" cy="603.80" r="1.22" fill="#0e4630"/>
<circle cx="333.10" cy="607.70" r="1.22" fill="#0e4630"/>
<line x1="340.80" y1="551.70" x2="352.30" y2="551.70" stroke="#000" stroke-width="1.25" />
<line x1="326.70" y1="585.60" x2="338.80" y2="585.60" stroke="#000" stroke-width="1.25" />
<line x1="370.50" y1="498.70" x2="388.00" y2="498.70" stroke="#1a1a1a" stroke-width="1.25" />
<line x1="370.50" y1="497.50" x2="370.50" y2="499.90" stroke="#1a1a1a" stroke-width="0.9" />
<line x1="388.00" y1="497.50" x2="388.00" y2="499.90" stroke="#1a1a1a" stroke-width="0.9" />
<text x="379.25" y="493.00" font-size="5.2" text-anchor="middle" fill="#333" font-weight="normal" stroke="#333" stroke-width="0.08" >0.0007</text>
<rect x="385.25" y="505.65" width="2.5" height="2.5" rx="0.35" fill="#df8508"/>
<rect x="383.05" y="514.45" width="2.5" height="2.5" rx="0.35" fill="#df8508"/>
<rect x="386.75" y="514.45" width="2.5" height="2.5" rx="0.35" fill="#df8508"/>
<rect x="384.95" y="518.45" width="2.5" height="2.5" rx="0.35" fill="#df8508"/>
<rect x="385.25" y="522.55" width="2.5" height="2.5" rx="0.35" fill="#df8508"/>
<rect x="380.55" y="525.65" width="2.5" height="2.5" rx="0.35" fill="#df8508"/>
<rect x="383.05" y="527.25" width="2.5" height="2.5" rx="0.35" fill="#df8508"/>
<rect x="385.25" y="527.65" width="2.5" height="2.5" rx="0.35" fill="#df8508"/>
<rect x="387.65" y="527.25" width="2.5" height="2.5" rx="0.35" fill="#df8508"/>
<rect x="389.55" y="525.65" width="2.5" height="2.5" rx="0.35" fill="#df8508"/>
<rect x="381.55" y="532.55" width="2.5" height="2.5" rx="0.35" fill="#df8508"/>
<rect x="385.25" y="532.95" width="2.5" height="2.5" rx="0.35" fill="#df8508"/>
<rect x="388.75" y="532.55" width="2.5" height="2.5" rx="0.35" fill="#df8508"/>
<rect x="386.75" y="535.95" width="2.5" height="2.5" rx="0.35" fill="#df8508"/>
<rect x="383.05" y="537.95" width="2.5" height="2.5" rx="0.35" fill="#df8508"/>
<rect x="381.55" y="541.05" width="2.5" height="2.5" rx="0.35" fill="#df8508"/>
<rect x="385.25" y="541.85" width="2.5" height="2.5" rx="0.35" fill="#df8508"/>
<rect x="388.25" y="540.25" width="2.5" height="2.5" rx="0.35" fill="#df8508"/>
<rect x="386.75" y="544.95" width="2.5" height="2.5" rx="0.35" fill="#df8508"/>
<rect x="383.05" y="546.75" width="2.5" height="2.5" rx="0.35" fill="#df8508"/>
<rect x="383.05" y="552.25" width="2.5" height="2.5" rx="0.35" fill="#df8508"/>
<rect x="386.75" y="552.25" width="2.5" height="2.5" rx="0.35" fill="#df8508"/>
<rect x="385.25" y="556.95" width="2.5" height="2.5" rx="0.35" fill="#df8508"/>
<circle cx="373.10" cy="508.50" r="1.22" fill="#0e4630"/>
<circle cx="373.10" cy="518.50" r="1.22" fill="#0e4630"/>
<circle cx="371.10" cy="528.50" r="1.22" fill="#0e4630"/>
<circle cx="375.10" cy="526.90" r="1.22" fill="#0e4630"/>
<circle cx="373.10" cy="538.50" r="1.22" fill="#0e4630"/>
<circle cx="373.10" cy="543.40" r="1.22" fill="#0e4630"/>
<circle cx="369.50" cy="548.50" r="1.22" fill="#0e4630"/>
<circle cx="373.10" cy="548.50" r="1.22" fill="#0e4630"/>
<circle cx="376.60" cy="548.00" r="1.22" fill="#0e4630"/>
<circle cx="368.50" cy="551.50" r="1.22" fill="#0e4630"/>
<circle cx="378.20" cy="551.50" r="1.22" fill="#0e4630"/>
<circle cx="373.10" cy="553.10" r="1.22" fill="#0e4630"/>
<circle cx="371.10" cy="555.70" r="1.22" fill="#0e4630"/>
<circle cx="375.10" cy="557.20" r="1.22" fill="#0e4630"/>
<circle cx="369.50" cy="560.00" r="1.22" fill="#0e4630"/>
<circle cx="373.10" cy="561.50" r="1.22" fill="#0e4630"/>
<circle cx="376.60" cy="560.30" r="1.22" fill="#0e4630"/>
<circle cx="371.10" cy="564.30" r="1.22" fill="#0e4630"/>
<circle cx="375.10" cy="565.40" r="1.22" fill="#0e4630"/>
<circle cx="371.10" cy="571.10" r="1.22" fill="#0e4630"/>
<circle cx="375.10" cy="570.00" r="1.22" fill="#0e4630"/>
<line x1="380.00" y1="533.80" x2="392.30" y2="533.80" stroke="#000" stroke-width="1.25" />
<line x1="366.90" y1="551.50" x2="379.20" y2="551.50" stroke="#000" stroke-width="1.25" />
<line x1="408.90" y1="498.70" x2="426.50" y2="498.70" stroke="#1a1a1a" stroke-width="1.25" />
<line x1="408.90" y1="497.50" x2="408.90" y2="499.90" stroke="#1a1a1a" stroke-width="0.9" />
<line x1="426.50" y1="497.50" x2="426.50" y2="499.90" stroke="#1a1a1a" stroke-width="0.9" />
<text x="417.70" y="493.00" font-size="5.2" text-anchor="middle" fill="#333" font-weight="normal" stroke="#333" stroke-width="0.08" >&lt;0.0001</text>
<rect x="424.95" y="507.65" width="2.5" height="2.5" rx="0.35" fill="#df8508"/>
<rect x="424.95" y="517.95" width="2.5" height="2.5" rx="0.35" fill="#df8508"/>
<rect x="423.05" y="521.55" width="2.5" height="2.5" rx="0.35" fill="#df8508"/>
<rect x="427.25" y="525.25" width="2.5" height="2.5" rx="0.35" fill="#df8508"/>
<rect x="428.75" y="524.55" width="2.5" height="2.5" rx="0.35" fill="#df8508"/>
<rect x="423.05" y="528.25" width="2.5" height="2.5" rx="0.35" fill="#df8508"/>
<rect x="421.55" y="532.25" width="2.5" height="2.5" rx="0.35" fill="#df8508"/>
<rect x="424.95" y="533.85" width="2.5" height="2.5" rx="0.35" fill="#df8508"/>
<rect x="428.25" y="531.85" width="2.5" height="2.5" rx="0.35" fill="#df8508"/>
<rect x="420.25" y="542.15" width="2.5" height="2.5" rx="0.35" fill="#df8508"/>
<rect x="423.05" y="543.05" width="2.5" height="2.5" rx="0.35" fill="#df8508"/>
<rect x="425.25" y="544.15" width="2.5" height="2.5" rx="0.35" fill="#df8508"/>
<rect x="427.25" y="543.05" width="2.5" height="2.5" rx="0.35" fill="#df8508"/>
<rect x="421.05" y="546.15" width="2.5" height="2.5" rx="0.35" fill="#df8508"/>
<rect x="424.95" y="548.75" width="2.5" height="2.5" rx="0.35" fill="#df8508"/>
<rect x="428.25" y="548.75" width="2.5" height="2.5" rx="0.35" fill="#df8508"/>
<rect x="424.95" y="552.95" width="2.5" height="2.5" rx="0.35" fill="#df8508"/>
<rect x="424.95" y="561.85" width="2.5" height="2.5" rx="0.35" fill="#df8508"/>
<circle cx="414.20" cy="540.80" r="1.22" fill="#0e4630"/>
<circle cx="411.10" cy="543.80" r="1.22" fill="#0e4630"/>
<circle cx="408.50" cy="547.70" r="1.22" fill="#0e4630"/>
<circle cx="417.20" cy="549.20" r="1.22" fill="#0e4630"/>
<circle cx="411.10" cy="551.10" r="1.22" fill="#0e4630"/>
<circle cx="414.20" cy="551.10" r="1.22" fill="#0e4630"/>
<circle cx="410.00" cy="554.60" r="1.22" fill="#0e4630"/>
<circle cx="414.20" cy="554.20" r="1.22" fill="#0e4630"/>
<circle cx="416.20" cy="555.70" r="1.22" fill="#0e4630"/>
<circle cx="408.90" cy="557.20" r="1.22" fill="#0e4630"/>
<circle cx="412.30" cy="556.60" r="1.22" fill="#0e4630"/>
<circle cx="407.70" cy="559.20" r="1.22" fill="#0e4630"/>
<circle cx="410.80" cy="561.50" r="1.22" fill="#0e4630"/>
<circle cx="413.10" cy="563.10" r="1.22" fill="#0e4630"/>
<circle cx="416.20" cy="564.60" r="1.22" fill="#0e4630"/>
<circle cx="409.20" cy="567.70" r="1.22" fill="#0e4630"/>
<circle cx="413.10" cy="567.70" r="1.22" fill="#0e4630"/>
<circle cx="413.10" cy="572.60" r="1.22" fill="#0e4630"/>
<line x1="420.00" y1="543.10" x2="432.00" y2="543.10" stroke="#000" stroke-width="1.25" />
<line x1="406.90" y1="559.50" x2="418.80" y2="559.50" stroke="#000" stroke-width="1.25" />
<line x1="451.20" y1="498.70" x2="469.20" y2="498.70" stroke="#1a1a1a" stroke-width="1.25" />
<line x1="451.20" y1="497.50" x2="451.20" y2="499.90" stroke="#1a1a1a" stroke-width="0.9" />
<line x1="469.20" y1="497.50" x2="469.20" y2="499.90" stroke="#1a1a1a" stroke-width="0.9" />
<text x="460.20" y="493.00" font-size="5.2" text-anchor="middle" fill="#333" font-weight="normal" stroke="#333" stroke-width="0.08" >&lt;0.0001</text>
<rect x="464.45" y="519.95" width="2.5" height="2.5" rx="0.35" fill="#df8508"/>
<rect x="464.45" y="527.95" width="2.5" height="2.5" rx="0.35" fill="#df8508"/>
<rect x="464.45" y="534.45" width="2.5" height="2.5" rx="0.35" fill="#df8508"/>
<rect x="461.05" y="537.55" width="2.5" height="2.5" rx="0.35" fill="#df8508"/>
<rect x="467.95" y="536.45" width="2.5" height="2.5" rx="0.35" fill="#df8508"/>
<rect x="464.45" y="538.75" width="2.5" height="2.5" rx="0.35" fill="#df8508"/>
<rect x="461.05" y="545.65" width="2.5" height="2.5" rx="0.35" fill="#df8508"/>
<rect x="464.45" y="548.75" width="2.5" height="2.5" rx="0.35" fill="#df8508"/>
<rect x="467.95" y="547.95" width="2.5" height="2.5" rx="0.35" fill="#df8508"/>
<rect x="460.25" y="553.85" width="2.5" height="2.5" rx="0.35" fill="#df8508"/>
<rect x="464.45" y="552.95" width="2.5" height="2.5" rx="0.35" fill="#df8508"/>
<rect x="469.05" y="553.35" width="2.5" height="2.5" rx="0.35" fill="#df8508"/>
<rect x="462.95" y="555.95" width="2.5" height="2.5" rx="0.35" fill="#df8508"/>
<rect x="465.95" y="555.35" width="2.5" height="2.5" rx="0.35" fill="#df8508"/>
<rect x="462.95" y="558.45" width="2.5" height="2.5" rx="0.35" fill="#df8508"/>
<rect x="466.45" y="559.55" width="2.5" height="2.5" rx="0.35" fill="#df8508"/>
<rect x="461.05" y="561.55" width="2.5" height="2.5" rx="0.35" fill="#df8508"/>
<rect x="464.45" y="563.65" width="2.5" height="2.5" rx="0.35" fill="#df8508"/>
<rect x="467.95" y="562.55" width="2.5" height="2.5" rx="0.35" fill="#df8508"/>
<rect x="462.95" y="570.25" width="2.5" height="2.5" rx="0.35" fill="#df8508"/>
<rect x="466.45" y="571.35" width="2.5" height="2.5" rx="0.35" fill="#df8508"/>
<rect x="464.45" y="575.65" width="2.5" height="2.5" rx="0.35" fill="#df8508"/>
<circle cx="449.20" cy="552.60" r="1.22" fill="#0e4630"/>
<circle cx="454.30" cy="551.50" r="1.22" fill="#0e4630"/>
<circle cx="450.80" cy="556.20" r="1.22" fill="#0e4630"/>
<circle cx="454.30" cy="556.60" r="1.22" fill="#0e4630"/>
<circle cx="449.20" cy="564.60" r="1.22" fill="#0e4630"/>
<circle cx="452.30" cy="566.50" r="1.22" fill="#0e4630"/>
<circle cx="455.80" cy="564.90" r="1.22" fill="#0e4630"/>
<circle cx="450.80" cy="567.70" r="1.22" fill="#0e4630"/>
<circle cx="453.80" cy="568.50" r="1.22" fill="#0e4630"/>
<circle cx="448.20" cy="570.00" r="1.22" fill="#0e4630"/>
<circle cx="452.30" cy="570.00" r="1.22" fill="#0e4630"/>
<circle cx="456.50" cy="570.00" r="1.22" fill="#0e4630"/>
<circle cx="448.20" cy="574.60" r="1.22" fill="#0e4630"/>
<circle cx="451.20" cy="575.10" r="1.22" fill="#0e4630"/>
<circle cx="454.30" cy="574.60" r="1.22" fill="#0e4630"/>
<circle cx="457.40" cy="573.10" r="1.22" fill="#0e4630"/>
<circle cx="451.20" cy="578.80" r="1.22" fill="#0e4630"/>
<circle cx="454.30" cy="580.30" r="1.22" fill="#0e4630"/>
<circle cx="449.20" cy="581.80" r="1.22" fill="#0e4630"/>
<circle cx="452.80" cy="583.80" r="1.22" fill="#0e4630"/>
<circle cx="456.20" cy="583.10" r="1.22" fill="#0e4630"/>
<line x1="460.00" y1="554.60" x2="471.50" y2="554.60" stroke="#000" stroke-width="1.25" />
<line x1="446.60" y1="569.50" x2="458.90" y2="569.50" stroke="#000" stroke-width="1.25" />
<rect x="0.5" y="0.5" width="519" height="661" fill="none" stroke="#000" stroke-width="1"/>
</svg>
</body></html>
